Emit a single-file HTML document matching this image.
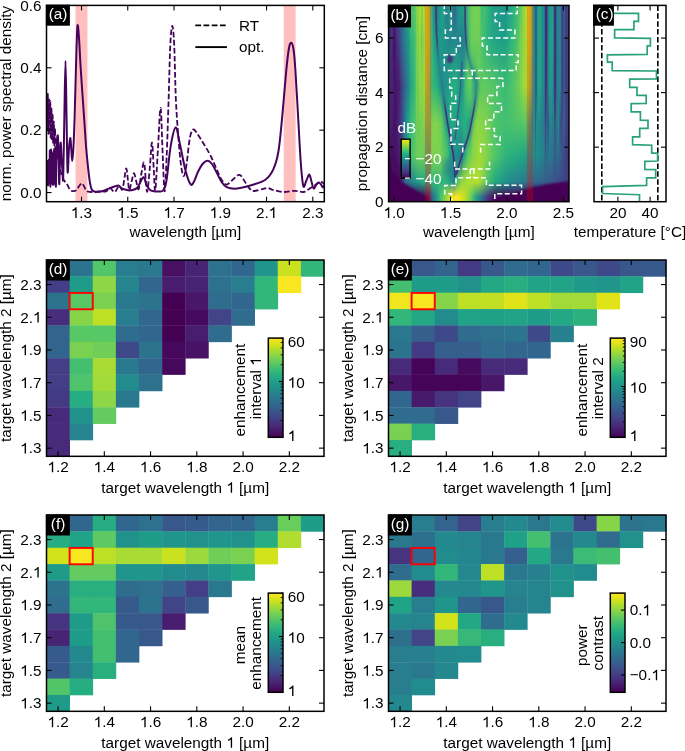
<!DOCTYPE html>
<html><head><meta charset="utf-8"><style>
html,body{margin:0;padding:0;background:#fff;overflow:hidden;width:685px;height:751px;}
svg{display:block;will-change:transform;}
text{font-family:"Liberation Sans", sans-serif;}
</style></head><body>
<svg width="685" height="751" viewBox="0 0 685 751" font-family="'Liberation Sans', sans-serif">
<rect width="685" height="751" fill="#fff"/>
<rect x="46.50" y="260.00" width="23.48" height="16.71" fill="#21918c"/>
<rect x="69.62" y="260.00" width="23.48" height="16.71" fill="#2c738e"/>
<rect x="92.75" y="260.00" width="23.48" height="16.71" fill="#52c569"/>
<rect x="115.88" y="260.00" width="23.48" height="16.71" fill="#287d8e"/>
<rect x="139.00" y="260.00" width="23.48" height="16.71" fill="#2a788e"/>
<rect x="162.12" y="260.00" width="23.48" height="16.71" fill="#471063"/>
<rect x="185.25" y="260.00" width="23.48" height="16.71" fill="#482475"/>
<rect x="208.38" y="260.00" width="23.48" height="16.71" fill="#2d718e"/>
<rect x="231.50" y="260.00" width="23.48" height="16.71" fill="#31678e"/>
<rect x="254.62" y="260.00" width="23.48" height="16.71" fill="#1f958b"/>
<rect x="277.75" y="260.00" width="23.48" height="16.71" fill="#cae11f"/>
<rect x="300.88" y="260.00" width="23.48" height="16.71" fill="#32b67a"/>
<rect x="46.50" y="276.36" width="23.48" height="16.71" fill="#433e85"/>
<rect x="69.62" y="276.36" width="23.48" height="16.71" fill="#1e9c89"/>
<rect x="92.75" y="276.36" width="23.48" height="16.71" fill="#8ed645"/>
<rect x="115.88" y="276.36" width="23.48" height="16.71" fill="#25848e"/>
<rect x="139.00" y="276.36" width="23.48" height="16.71" fill="#31678e"/>
<rect x="162.12" y="276.36" width="23.48" height="16.71" fill="#481d6f"/>
<rect x="185.25" y="276.36" width="23.48" height="16.71" fill="#482475"/>
<rect x="208.38" y="276.36" width="23.48" height="16.71" fill="#2d718e"/>
<rect x="231.50" y="276.36" width="23.48" height="16.71" fill="#287d8e"/>
<rect x="254.62" y="276.36" width="23.48" height="16.71" fill="#32b67a"/>
<rect x="277.75" y="276.36" width="23.48" height="16.71" fill="#f8e621"/>
<rect x="46.50" y="292.72" width="23.48" height="16.71" fill="#2c738e"/>
<rect x="69.62" y="292.72" width="23.48" height="16.71" fill="#58c765"/>
<rect x="92.75" y="292.72" width="23.48" height="16.71" fill="#7ad151"/>
<rect x="115.88" y="292.72" width="23.48" height="16.71" fill="#2a788e"/>
<rect x="139.00" y="292.72" width="23.48" height="16.71" fill="#2c738e"/>
<rect x="162.12" y="292.72" width="23.48" height="16.71" fill="#440154"/>
<rect x="185.25" y="292.72" width="23.48" height="16.71" fill="#481769"/>
<rect x="208.38" y="292.72" width="23.48" height="16.71" fill="#2f6c8e"/>
<rect x="231.50" y="292.72" width="23.48" height="16.71" fill="#31678e"/>
<rect x="254.62" y="292.72" width="23.48" height="16.71" fill="#32b67a"/>
<rect x="46.50" y="309.08" width="23.48" height="16.71" fill="#472e7c"/>
<rect x="69.62" y="309.08" width="23.48" height="16.71" fill="#86d549"/>
<rect x="92.75" y="309.08" width="23.48" height="16.71" fill="#bddf26"/>
<rect x="115.88" y="309.08" width="23.48" height="16.71" fill="#287d8e"/>
<rect x="139.00" y="309.08" width="23.48" height="16.71" fill="#31678e"/>
<rect x="162.12" y="309.08" width="23.48" height="16.71" fill="#440154"/>
<rect x="185.25" y="309.08" width="23.48" height="16.71" fill="#460b5e"/>
<rect x="208.38" y="309.08" width="23.48" height="16.71" fill="#414487"/>
<rect x="231.50" y="309.08" width="23.48" height="16.71" fill="#2f6c8e"/>
<rect x="46.50" y="325.44" width="23.48" height="16.71" fill="#32648e"/>
<rect x="69.62" y="325.44" width="23.48" height="16.71" fill="#58c765"/>
<rect x="92.75" y="325.44" width="23.48" height="16.71" fill="#58c765"/>
<rect x="115.88" y="325.44" width="23.48" height="16.71" fill="#2f6c8e"/>
<rect x="139.00" y="325.44" width="23.48" height="16.71" fill="#31678e"/>
<rect x="162.12" y="325.44" width="23.48" height="16.71" fill="#440154"/>
<rect x="185.25" y="325.44" width="23.48" height="16.71" fill="#481d6f"/>
<rect x="208.38" y="325.44" width="23.48" height="16.71" fill="#2f6c8e"/>
<rect x="46.50" y="341.80" width="23.48" height="16.71" fill="#32648e"/>
<rect x="69.62" y="341.80" width="23.48" height="16.71" fill="#7ad151"/>
<rect x="92.75" y="341.80" width="23.48" height="16.71" fill="#6ece58"/>
<rect x="115.88" y="341.80" width="23.48" height="16.71" fill="#3e4989"/>
<rect x="139.00" y="341.80" width="23.48" height="16.71" fill="#2c738e"/>
<rect x="162.12" y="341.80" width="23.48" height="16.71" fill="#46085c"/>
<rect x="185.25" y="341.80" width="23.48" height="16.71" fill="#471365"/>
<rect x="46.50" y="358.16" width="23.48" height="16.71" fill="#433e85"/>
<rect x="69.62" y="358.16" width="23.48" height="16.71" fill="#44bf70"/>
<rect x="92.75" y="358.16" width="23.48" height="16.71" fill="#a8db34"/>
<rect x="115.88" y="358.16" width="23.48" height="16.71" fill="#2a788e"/>
<rect x="139.00" y="358.16" width="23.48" height="16.71" fill="#31678e"/>
<rect x="162.12" y="358.16" width="23.48" height="16.71" fill="#46085c"/>
<rect x="46.50" y="374.52" width="23.48" height="16.71" fill="#433e85"/>
<rect x="69.62" y="374.52" width="23.48" height="16.71" fill="#4ec36b"/>
<rect x="92.75" y="374.52" width="23.48" height="16.71" fill="#a2da37"/>
<rect x="115.88" y="374.52" width="23.48" height="16.71" fill="#228b8d"/>
<rect x="139.00" y="374.52" width="23.48" height="16.71" fill="#2d718e"/>
<rect x="46.50" y="390.88" width="23.48" height="16.71" fill="#443a83"/>
<rect x="69.62" y="390.88" width="23.48" height="16.71" fill="#26ad81"/>
<rect x="92.75" y="390.88" width="23.48" height="16.71" fill="#8ed645"/>
<rect x="115.88" y="390.88" width="23.48" height="16.71" fill="#2a788e"/>
<rect x="46.50" y="407.24" width="23.48" height="16.71" fill="#472a7a"/>
<rect x="69.62" y="407.24" width="23.48" height="16.71" fill="#21918c"/>
<rect x="92.75" y="407.24" width="23.48" height="16.71" fill="#63cb5f"/>
<rect x="46.50" y="423.60" width="23.48" height="16.71" fill="#472a7a"/>
<rect x="69.62" y="423.60" width="23.48" height="16.71" fill="#25848e"/>
<rect x="46.50" y="439.96" width="23.48" height="16.71" fill="#472a7a"/>
<rect x="69.62" y="292.92" width="23.12" height="16.36" fill="none" stroke="#ff0000" stroke-width="1.9"/>
<line x1="58.06" y1="456.32" x2="58.06" y2="451.32" stroke="#000" stroke-width="1.1"/>
<line x1="58.06" y1="260.00" x2="58.06" y2="265.00" stroke="#000" stroke-width="1.1"/>
<g>
<text x="58.06" y="472.32" text-anchor="middle" font-size="15.3" fill="#000"> .2</text>
<path d="M770,0 L590,0 L590,1100 C520,1040 400,975 210,915 L210,1085 C380,1150 540,1270 640,1409 L770,1409 Z" fill="#000" transform="translate(47.428 472.320) scale(0.007471 -0.007471)"/>
</g>
<line x1="104.31" y1="456.32" x2="104.31" y2="451.32" stroke="#000" stroke-width="1.1"/>
<line x1="104.31" y1="260.00" x2="104.31" y2="265.00" stroke="#000" stroke-width="1.1"/>
<g>
<text x="104.31" y="472.32" text-anchor="middle" font-size="15.3" fill="#000"> .4</text>
<path d="M770,0 L590,0 L590,1100 C520,1040 400,975 210,915 L210,1085 C380,1150 540,1270 640,1409 L770,1409 Z" fill="#000" transform="translate(93.678 472.320) scale(0.007471 -0.007471)"/>
</g>
<line x1="150.56" y1="456.32" x2="150.56" y2="451.32" stroke="#000" stroke-width="1.1"/>
<line x1="150.56" y1="260.00" x2="150.56" y2="265.00" stroke="#000" stroke-width="1.1"/>
<g>
<text x="150.56" y="472.32" text-anchor="middle" font-size="15.3" fill="#000"> .6</text>
<path d="M770,0 L590,0 L590,1100 C520,1040 400,975 210,915 L210,1085 C380,1150 540,1270 640,1409 L770,1409 Z" fill="#000" transform="translate(139.928 472.320) scale(0.007471 -0.007471)"/>
</g>
<line x1="196.81" y1="456.32" x2="196.81" y2="451.32" stroke="#000" stroke-width="1.1"/>
<line x1="196.81" y1="260.00" x2="196.81" y2="265.00" stroke="#000" stroke-width="1.1"/>
<g>
<text x="196.81" y="472.32" text-anchor="middle" font-size="15.3" fill="#000"> .8</text>
<path d="M770,0 L590,0 L590,1100 C520,1040 400,975 210,915 L210,1085 C380,1150 540,1270 640,1409 L770,1409 Z" fill="#000" transform="translate(186.178 472.320) scale(0.007471 -0.007471)"/>
</g>
<line x1="243.06" y1="456.32" x2="243.06" y2="451.32" stroke="#000" stroke-width="1.1"/>
<line x1="243.06" y1="260.00" x2="243.06" y2="265.00" stroke="#000" stroke-width="1.1"/>
<text x="243.06" y="472.32" text-anchor="middle" font-size="15.3" fill="#000">2.0</text>
<line x1="289.31" y1="456.32" x2="289.31" y2="451.32" stroke="#000" stroke-width="1.1"/>
<line x1="289.31" y1="260.00" x2="289.31" y2="265.00" stroke="#000" stroke-width="1.1"/>
<text x="289.31" y="472.32" text-anchor="middle" font-size="15.3" fill="#000">2.2</text>
<line x1="46.50" y1="448.14" x2="51.50" y2="448.14" stroke="#000" stroke-width="1.1"/>
<line x1="324.00" y1="448.14" x2="319.00" y2="448.14" stroke="#000" stroke-width="1.1"/>
<g>
<text x="41.50" y="453.44" text-anchor="end" font-size="15.3" fill="#000"> .3</text>
<path d="M770,0 L590,0 L590,1100 C520,1040 400,975 210,915 L210,1085 C380,1150 540,1270 640,1409 L770,1409 Z" fill="#000" transform="translate(20.231 453.440) scale(0.007471 -0.007471)"/>
</g>
<line x1="46.50" y1="415.42" x2="51.50" y2="415.42" stroke="#000" stroke-width="1.1"/>
<line x1="324.00" y1="415.42" x2="319.00" y2="415.42" stroke="#000" stroke-width="1.1"/>
<g>
<text x="41.50" y="420.72" text-anchor="end" font-size="15.3" fill="#000"> .5</text>
<path d="M770,0 L590,0 L590,1100 C520,1040 400,975 210,915 L210,1085 C380,1150 540,1270 640,1409 L770,1409 Z" fill="#000" transform="translate(20.231 420.720) scale(0.007471 -0.007471)"/>
</g>
<line x1="46.50" y1="382.70" x2="51.50" y2="382.70" stroke="#000" stroke-width="1.1"/>
<line x1="324.00" y1="382.70" x2="319.00" y2="382.70" stroke="#000" stroke-width="1.1"/>
<g>
<text x="41.50" y="388.00" text-anchor="end" font-size="15.3" fill="#000"> .7</text>
<path d="M770,0 L590,0 L590,1100 C520,1040 400,975 210,915 L210,1085 C380,1150 540,1270 640,1409 L770,1409 Z" fill="#000" transform="translate(20.231 388.000) scale(0.007471 -0.007471)"/>
</g>
<line x1="46.50" y1="349.98" x2="51.50" y2="349.98" stroke="#000" stroke-width="1.1"/>
<line x1="324.00" y1="349.98" x2="319.00" y2="349.98" stroke="#000" stroke-width="1.1"/>
<g>
<text x="41.50" y="355.28" text-anchor="end" font-size="15.3" fill="#000"> .9</text>
<path d="M770,0 L590,0 L590,1100 C520,1040 400,975 210,915 L210,1085 C380,1150 540,1270 640,1409 L770,1409 Z" fill="#000" transform="translate(20.231 355.280) scale(0.007471 -0.007471)"/>
</g>
<line x1="46.50" y1="317.26" x2="51.50" y2="317.26" stroke="#000" stroke-width="1.1"/>
<line x1="324.00" y1="317.26" x2="319.00" y2="317.26" stroke="#000" stroke-width="1.1"/>
<g>
<text x="41.50" y="322.56" text-anchor="end" font-size="15.3" fill="#000">2. </text>
<path d="M770,0 L590,0 L590,1100 C520,1040 400,975 210,915 L210,1085 C380,1150 540,1270 640,1409 L770,1409 Z" fill="#000" transform="translate(32.991 322.560) scale(0.007471 -0.007471)"/>
</g>
<line x1="46.50" y1="284.54" x2="51.50" y2="284.54" stroke="#000" stroke-width="1.1"/>
<line x1="324.00" y1="284.54" x2="319.00" y2="284.54" stroke="#000" stroke-width="1.1"/>
<text x="41.50" y="289.84" text-anchor="end" font-size="15.3" fill="#000">2.3</text>
<rect x="46.50" y="260.00" width="277.50" height="196.32" fill="none" stroke="#000" stroke-width="1.5"/>
<rect x="45.90" y="259.40" width="24.00" height="21.10" fill="#000"/>
<text x="58.10" y="274.25" text-anchor="middle" font-size="15.3" fill="#fff">(d)</text>
<g>
<text x="185.25" y="492.82" text-anchor="middle" font-size="15.3" fill="#000">target wavelength   [µm]</text>
<path d="M770,0 L590,0 L590,1100 C520,1040 400,975 210,915 L210,1085 C380,1150 540,1270 640,1409 L770,1409 Z" fill="#000" transform="translate(226.354 492.820) scale(0.007471 -0.007471)"/>
</g>
<text x="10.60" y="358.16" text-anchor="middle" font-size="15.3" fill="#000" transform="rotate(-90 10.600000000000001 358.15999999999997)">target wavelength 2 [µm]</text>
<defs><linearGradient id="cbd" x1="0" y1="0" x2="0" y2="1"><stop offset="0.000" stop-color="#fde725"/><stop offset="0.050" stop-color="#dfe318"/><stop offset="0.100" stop-color="#bddf26"/><stop offset="0.150" stop-color="#9bd93c"/><stop offset="0.200" stop-color="#7ad151"/><stop offset="0.250" stop-color="#5ec962"/><stop offset="0.300" stop-color="#44bf70"/><stop offset="0.350" stop-color="#2fb47c"/><stop offset="0.400" stop-color="#22a884"/><stop offset="0.450" stop-color="#1e9c89"/><stop offset="0.500" stop-color="#21918c"/><stop offset="0.550" stop-color="#25848e"/><stop offset="0.600" stop-color="#2a788e"/><stop offset="0.650" stop-color="#2f6c8e"/><stop offset="0.700" stop-color="#355f8d"/><stop offset="0.750" stop-color="#3b528b"/><stop offset="0.800" stop-color="#414487"/><stop offset="0.850" stop-color="#463480"/><stop offset="0.900" stop-color="#482475"/><stop offset="0.950" stop-color="#471365"/><stop offset="1.000" stop-color="#440154"/></linearGradient></defs>
<rect x="268.30" y="338.10" width="14.70" height="99.20" fill="url(#cbd)"/>
<line x1="283.00" y1="420.51" x2="280.70" y2="420.51" stroke="#000" stroke-width="0.9"/>
<line x1="283.00" y1="410.68" x2="280.70" y2="410.68" stroke="#000" stroke-width="0.9"/>
<line x1="283.00" y1="403.71" x2="280.70" y2="403.71" stroke="#000" stroke-width="0.9"/>
<line x1="283.00" y1="398.31" x2="280.70" y2="398.31" stroke="#000" stroke-width="0.9"/>
<line x1="283.00" y1="393.89" x2="280.70" y2="393.89" stroke="#000" stroke-width="0.9"/>
<line x1="283.00" y1="390.15" x2="280.70" y2="390.15" stroke="#000" stroke-width="0.9"/>
<line x1="283.00" y1="386.92" x2="280.70" y2="386.92" stroke="#000" stroke-width="0.9"/>
<line x1="283.00" y1="384.06" x2="280.70" y2="384.06" stroke="#000" stroke-width="0.9"/>
<line x1="283.00" y1="364.72" x2="280.70" y2="364.72" stroke="#000" stroke-width="0.9"/>
<line x1="283.00" y1="354.89" x2="280.70" y2="354.89" stroke="#000" stroke-width="0.9"/>
<line x1="283.00" y1="347.92" x2="280.70" y2="347.92" stroke="#000" stroke-width="0.9"/>
<line x1="283.00" y1="342.52" x2="280.70" y2="342.52" stroke="#000" stroke-width="0.9"/>
<line x1="283.00" y1="338.10" x2="280.70" y2="338.10" stroke="#000" stroke-width="0.9"/>
<line x1="283.00" y1="381.51" x2="279.00" y2="381.51" stroke="#000" stroke-width="1.1"/>
<rect x="268.30" y="338.10" width="14.70" height="99.20" fill="none" stroke="#000" stroke-width="1.5"/>
<text x="287.70" y="346.80" text-anchor="start" font-size="15.3" fill="#000">60</text>
<g>
<text x="287.70" y="387.81" text-anchor="start" font-size="15.3" fill="#000"> 0</text>
<path d="M770,0 L590,0 L590,1100 C520,1040 400,975 210,915 L210,1085 C380,1150 540,1270 640,1409 L770,1409 Z" fill="#000" transform="translate(287.700 387.812) scale(0.007471 -0.007471)"/>
</g>
<g>
<text x="287.70" y="441.10" text-anchor="start" font-size="15.3" fill="#000"> </text>
<path d="M770,0 L590,0 L590,1100 C520,1040 400,975 210,915 L210,1085 C380,1150 540,1270 640,1409 L770,1409 Z" fill="#000" transform="translate(287.700 441.100) scale(0.007471 -0.007471)"/>
</g>
<text x="245.20" y="390.20" text-anchor="middle" font-size="15.3" fill="#000" transform="rotate(-90 245.20000000000002 390.20000000000005)">enhancement</text>
<g transform="rotate(-90 261.0 388.30000000000007)">
<text x="261.00" y="388.30" text-anchor="middle" font-size="15.3" fill="#000">interval  </text>
<path d="M770,0 L590,0 L590,1100 C520,1040 400,975 210,915 L210,1085 C380,1150 540,1270 640,1409 L770,1409 Z" fill="#000" transform="translate(283.532 388.300) scale(0.007471 -0.007471)"/>
</g>
<rect x="388.50" y="260.00" width="23.48" height="16.71" fill="#21918c"/>
<rect x="411.62" y="260.00" width="23.48" height="16.71" fill="#38588c"/>
<rect x="434.75" y="260.00" width="23.48" height="16.71" fill="#32648e"/>
<rect x="457.88" y="260.00" width="23.48" height="16.71" fill="#443a83"/>
<rect x="481.00" y="260.00" width="23.48" height="16.71" fill="#38588c"/>
<rect x="504.12" y="260.00" width="23.48" height="16.71" fill="#2f6c8e"/>
<rect x="527.25" y="260.00" width="23.48" height="16.71" fill="#31678e"/>
<rect x="550.38" y="260.00" width="23.48" height="16.71" fill="#3e4989"/>
<rect x="573.50" y="260.00" width="23.48" height="16.71" fill="#38588c"/>
<rect x="596.62" y="260.00" width="23.48" height="16.71" fill="#3e4989"/>
<rect x="619.75" y="260.00" width="23.48" height="16.71" fill="#38588c"/>
<rect x="642.88" y="260.00" width="23.48" height="16.71" fill="#375a8c"/>
<rect x="388.50" y="276.36" width="23.48" height="16.71" fill="#44bf70"/>
<rect x="411.62" y="276.36" width="23.48" height="16.71" fill="#1e9c89"/>
<rect x="434.75" y="276.36" width="23.48" height="16.71" fill="#1e9c89"/>
<rect x="457.88" y="276.36" width="23.48" height="16.71" fill="#21918c"/>
<rect x="481.00" y="276.36" width="23.48" height="16.71" fill="#22a884"/>
<rect x="504.12" y="276.36" width="23.48" height="16.71" fill="#29af7f"/>
<rect x="527.25" y="276.36" width="23.48" height="16.71" fill="#20a386"/>
<rect x="550.38" y="276.36" width="23.48" height="16.71" fill="#20a386"/>
<rect x="573.50" y="276.36" width="23.48" height="16.71" fill="#1f9a8a"/>
<rect x="596.62" y="276.36" width="23.48" height="16.71" fill="#1f958b"/>
<rect x="619.75" y="276.36" width="23.48" height="16.71" fill="#20a386"/>
<rect x="388.50" y="292.72" width="23.48" height="16.71" fill="#f1e51d"/>
<rect x="411.62" y="292.72" width="23.48" height="16.71" fill="#f8e621"/>
<rect x="434.75" y="292.72" width="23.48" height="16.71" fill="#86d549"/>
<rect x="457.88" y="292.72" width="23.48" height="16.71" fill="#bddf26"/>
<rect x="481.00" y="292.72" width="23.48" height="16.71" fill="#c2df23"/>
<rect x="504.12" y="292.72" width="23.48" height="16.71" fill="#dfe318"/>
<rect x="527.25" y="292.72" width="23.48" height="16.71" fill="#bddf26"/>
<rect x="550.38" y="292.72" width="23.48" height="16.71" fill="#a2da37"/>
<rect x="573.50" y="292.72" width="23.48" height="16.71" fill="#a2da37"/>
<rect x="596.62" y="292.72" width="23.48" height="16.71" fill="#dfe318"/>
<rect x="388.50" y="309.08" width="23.48" height="16.71" fill="#32b67a"/>
<rect x="411.62" y="309.08" width="23.48" height="16.71" fill="#22a884"/>
<rect x="434.75" y="309.08" width="23.48" height="16.71" fill="#228b8d"/>
<rect x="457.88" y="309.08" width="23.48" height="16.71" fill="#20a386"/>
<rect x="481.00" y="309.08" width="23.48" height="16.71" fill="#1fa188"/>
<rect x="504.12" y="309.08" width="23.48" height="16.71" fill="#20a386"/>
<rect x="527.25" y="309.08" width="23.48" height="16.71" fill="#1e9c89"/>
<rect x="550.38" y="309.08" width="23.48" height="16.71" fill="#22a884"/>
<rect x="573.50" y="309.08" width="23.48" height="16.71" fill="#2cb17e"/>
<rect x="388.50" y="325.44" width="23.48" height="16.71" fill="#2a788e"/>
<rect x="411.62" y="325.44" width="23.48" height="16.71" fill="#355f8d"/>
<rect x="434.75" y="325.44" width="23.48" height="16.71" fill="#3e4989"/>
<rect x="457.88" y="325.44" width="23.48" height="16.71" fill="#2f6c8e"/>
<rect x="481.00" y="325.44" width="23.48" height="16.71" fill="#2d718e"/>
<rect x="504.12" y="325.44" width="23.48" height="16.71" fill="#2b758e"/>
<rect x="527.25" y="325.44" width="23.48" height="16.71" fill="#3e4989"/>
<rect x="550.38" y="325.44" width="23.48" height="16.71" fill="#27808e"/>
<rect x="388.50" y="341.80" width="23.48" height="16.71" fill="#2c738e"/>
<rect x="411.62" y="341.80" width="23.48" height="16.71" fill="#443a83"/>
<rect x="434.75" y="341.80" width="23.48" height="16.71" fill="#355f8d"/>
<rect x="457.88" y="341.80" width="23.48" height="16.71" fill="#355f8d"/>
<rect x="481.00" y="341.80" width="23.48" height="16.71" fill="#2f6c8e"/>
<rect x="504.12" y="341.80" width="23.48" height="16.71" fill="#31678e"/>
<rect x="527.25" y="341.80" width="23.48" height="16.71" fill="#31678e"/>
<rect x="388.50" y="358.16" width="23.48" height="16.71" fill="#472a7a"/>
<rect x="411.62" y="358.16" width="23.48" height="16.71" fill="#450457"/>
<rect x="434.75" y="358.16" width="23.48" height="16.71" fill="#472a7a"/>
<rect x="457.88" y="358.16" width="23.48" height="16.71" fill="#460b5e"/>
<rect x="481.00" y="358.16" width="23.48" height="16.71" fill="#472a7a"/>
<rect x="504.12" y="358.16" width="23.48" height="16.71" fill="#472a7a"/>
<rect x="388.50" y="374.52" width="23.48" height="16.71" fill="#481769"/>
<rect x="411.62" y="374.52" width="23.48" height="16.71" fill="#450457"/>
<rect x="434.75" y="374.52" width="23.48" height="16.71" fill="#450457"/>
<rect x="457.88" y="374.52" width="23.48" height="16.71" fill="#450457"/>
<rect x="481.00" y="374.52" width="23.48" height="16.71" fill="#481769"/>
<rect x="388.50" y="390.88" width="23.48" height="16.71" fill="#31678e"/>
<rect x="411.62" y="390.88" width="23.48" height="16.71" fill="#481a6c"/>
<rect x="434.75" y="390.88" width="23.48" height="16.71" fill="#463480"/>
<rect x="457.88" y="390.88" width="23.48" height="16.71" fill="#414487"/>
<rect x="388.50" y="407.24" width="23.48" height="16.71" fill="#2f6c8e"/>
<rect x="411.62" y="407.24" width="23.48" height="16.71" fill="#2f6c8e"/>
<rect x="434.75" y="407.24" width="23.48" height="16.71" fill="#38588c"/>
<rect x="388.50" y="423.60" width="23.48" height="16.71" fill="#7ad151"/>
<rect x="411.62" y="423.60" width="23.48" height="16.71" fill="#29af7f"/>
<rect x="388.50" y="439.96" width="23.48" height="16.71" fill="#29af7f"/>
<rect x="411.62" y="292.92" width="23.12" height="16.36" fill="none" stroke="#ff0000" stroke-width="1.9"/>
<line x1="400.06" y1="456.32" x2="400.06" y2="451.32" stroke="#000" stroke-width="1.1"/>
<line x1="400.06" y1="260.00" x2="400.06" y2="265.00" stroke="#000" stroke-width="1.1"/>
<g>
<text x="400.06" y="472.32" text-anchor="middle" font-size="15.3" fill="#000"> .2</text>
<path d="M770,0 L590,0 L590,1100 C520,1040 400,975 210,915 L210,1085 C380,1150 540,1270 640,1409 L770,1409 Z" fill="#000" transform="translate(389.428 472.320) scale(0.007471 -0.007471)"/>
</g>
<line x1="446.31" y1="456.32" x2="446.31" y2="451.32" stroke="#000" stroke-width="1.1"/>
<line x1="446.31" y1="260.00" x2="446.31" y2="265.00" stroke="#000" stroke-width="1.1"/>
<g>
<text x="446.31" y="472.32" text-anchor="middle" font-size="15.3" fill="#000"> .4</text>
<path d="M770,0 L590,0 L590,1100 C520,1040 400,975 210,915 L210,1085 C380,1150 540,1270 640,1409 L770,1409 Z" fill="#000" transform="translate(435.678 472.320) scale(0.007471 -0.007471)"/>
</g>
<line x1="492.56" y1="456.32" x2="492.56" y2="451.32" stroke="#000" stroke-width="1.1"/>
<line x1="492.56" y1="260.00" x2="492.56" y2="265.00" stroke="#000" stroke-width="1.1"/>
<g>
<text x="492.56" y="472.32" text-anchor="middle" font-size="15.3" fill="#000"> .6</text>
<path d="M770,0 L590,0 L590,1100 C520,1040 400,975 210,915 L210,1085 C380,1150 540,1270 640,1409 L770,1409 Z" fill="#000" transform="translate(481.928 472.320) scale(0.007471 -0.007471)"/>
</g>
<line x1="538.81" y1="456.32" x2="538.81" y2="451.32" stroke="#000" stroke-width="1.1"/>
<line x1="538.81" y1="260.00" x2="538.81" y2="265.00" stroke="#000" stroke-width="1.1"/>
<g>
<text x="538.81" y="472.32" text-anchor="middle" font-size="15.3" fill="#000"> .8</text>
<path d="M770,0 L590,0 L590,1100 C520,1040 400,975 210,915 L210,1085 C380,1150 540,1270 640,1409 L770,1409 Z" fill="#000" transform="translate(528.178 472.320) scale(0.007471 -0.007471)"/>
</g>
<line x1="585.06" y1="456.32" x2="585.06" y2="451.32" stroke="#000" stroke-width="1.1"/>
<line x1="585.06" y1="260.00" x2="585.06" y2="265.00" stroke="#000" stroke-width="1.1"/>
<text x="585.06" y="472.32" text-anchor="middle" font-size="15.3" fill="#000">2.0</text>
<line x1="631.31" y1="456.32" x2="631.31" y2="451.32" stroke="#000" stroke-width="1.1"/>
<line x1="631.31" y1="260.00" x2="631.31" y2="265.00" stroke="#000" stroke-width="1.1"/>
<text x="631.31" y="472.32" text-anchor="middle" font-size="15.3" fill="#000">2.2</text>
<line x1="388.50" y1="448.14" x2="393.50" y2="448.14" stroke="#000" stroke-width="1.1"/>
<line x1="666.00" y1="448.14" x2="661.00" y2="448.14" stroke="#000" stroke-width="1.1"/>
<g>
<text x="383.50" y="453.44" text-anchor="end" font-size="15.3" fill="#000"> .3</text>
<path d="M770,0 L590,0 L590,1100 C520,1040 400,975 210,915 L210,1085 C380,1150 540,1270 640,1409 L770,1409 Z" fill="#000" transform="translate(362.231 453.440) scale(0.007471 -0.007471)"/>
</g>
<line x1="388.50" y1="415.42" x2="393.50" y2="415.42" stroke="#000" stroke-width="1.1"/>
<line x1="666.00" y1="415.42" x2="661.00" y2="415.42" stroke="#000" stroke-width="1.1"/>
<g>
<text x="383.50" y="420.72" text-anchor="end" font-size="15.3" fill="#000"> .5</text>
<path d="M770,0 L590,0 L590,1100 C520,1040 400,975 210,915 L210,1085 C380,1150 540,1270 640,1409 L770,1409 Z" fill="#000" transform="translate(362.231 420.720) scale(0.007471 -0.007471)"/>
</g>
<line x1="388.50" y1="382.70" x2="393.50" y2="382.70" stroke="#000" stroke-width="1.1"/>
<line x1="666.00" y1="382.70" x2="661.00" y2="382.70" stroke="#000" stroke-width="1.1"/>
<g>
<text x="383.50" y="388.00" text-anchor="end" font-size="15.3" fill="#000"> .7</text>
<path d="M770,0 L590,0 L590,1100 C520,1040 400,975 210,915 L210,1085 C380,1150 540,1270 640,1409 L770,1409 Z" fill="#000" transform="translate(362.231 388.000) scale(0.007471 -0.007471)"/>
</g>
<line x1="388.50" y1="349.98" x2="393.50" y2="349.98" stroke="#000" stroke-width="1.1"/>
<line x1="666.00" y1="349.98" x2="661.00" y2="349.98" stroke="#000" stroke-width="1.1"/>
<g>
<text x="383.50" y="355.28" text-anchor="end" font-size="15.3" fill="#000"> .9</text>
<path d="M770,0 L590,0 L590,1100 C520,1040 400,975 210,915 L210,1085 C380,1150 540,1270 640,1409 L770,1409 Z" fill="#000" transform="translate(362.231 355.280) scale(0.007471 -0.007471)"/>
</g>
<line x1="388.50" y1="317.26" x2="393.50" y2="317.26" stroke="#000" stroke-width="1.1"/>
<line x1="666.00" y1="317.26" x2="661.00" y2="317.26" stroke="#000" stroke-width="1.1"/>
<g>
<text x="383.50" y="322.56" text-anchor="end" font-size="15.3" fill="#000">2. </text>
<path d="M770,0 L590,0 L590,1100 C520,1040 400,975 210,915 L210,1085 C380,1150 540,1270 640,1409 L770,1409 Z" fill="#000" transform="translate(374.991 322.560) scale(0.007471 -0.007471)"/>
</g>
<line x1="388.50" y1="284.54" x2="393.50" y2="284.54" stroke="#000" stroke-width="1.1"/>
<line x1="666.00" y1="284.54" x2="661.00" y2="284.54" stroke="#000" stroke-width="1.1"/>
<text x="383.50" y="289.84" text-anchor="end" font-size="15.3" fill="#000">2.3</text>
<rect x="388.50" y="260.00" width="277.50" height="196.32" fill="none" stroke="#000" stroke-width="1.5"/>
<rect x="387.90" y="259.40" width="24.00" height="21.10" fill="#000"/>
<text x="400.10" y="274.25" text-anchor="middle" font-size="15.3" fill="#fff">(e)</text>
<g>
<text x="527.25" y="492.82" text-anchor="middle" font-size="15.3" fill="#000">target wavelength   [µm]</text>
<path d="M770,0 L590,0 L590,1100 C520,1040 400,975 210,915 L210,1085 C380,1150 540,1270 640,1409 L770,1409 Z" fill="#000" transform="translate(568.354 492.820) scale(0.007471 -0.007471)"/>
</g>
<text x="352.60" y="358.16" text-anchor="middle" font-size="15.3" fill="#000" transform="rotate(-90 352.6 358.15999999999997)">target wavelength 2 [µm]</text>
<defs><linearGradient id="cbe" x1="0" y1="0" x2="0" y2="1"><stop offset="0.000" stop-color="#fde725"/><stop offset="0.050" stop-color="#dfe318"/><stop offset="0.100" stop-color="#bddf26"/><stop offset="0.150" stop-color="#9bd93c"/><stop offset="0.200" stop-color="#7ad151"/><stop offset="0.250" stop-color="#5ec962"/><stop offset="0.300" stop-color="#44bf70"/><stop offset="0.350" stop-color="#2fb47c"/><stop offset="0.400" stop-color="#22a884"/><stop offset="0.450" stop-color="#1e9c89"/><stop offset="0.500" stop-color="#21918c"/><stop offset="0.550" stop-color="#25848e"/><stop offset="0.600" stop-color="#2a788e"/><stop offset="0.650" stop-color="#2f6c8e"/><stop offset="0.700" stop-color="#355f8d"/><stop offset="0.750" stop-color="#3b528b"/><stop offset="0.800" stop-color="#414487"/><stop offset="0.850" stop-color="#463480"/><stop offset="0.900" stop-color="#482475"/><stop offset="0.950" stop-color="#471365"/><stop offset="1.000" stop-color="#440154"/></linearGradient></defs>
<rect x="610.30" y="338.10" width="14.70" height="99.20" fill="url(#cbe)"/>
<line x1="625.00" y1="422.02" x2="622.70" y2="422.02" stroke="#000" stroke-width="0.9"/>
<line x1="625.00" y1="413.08" x2="622.70" y2="413.08" stroke="#000" stroke-width="0.9"/>
<line x1="625.00" y1="406.74" x2="622.70" y2="406.74" stroke="#000" stroke-width="0.9"/>
<line x1="625.00" y1="401.82" x2="622.70" y2="401.82" stroke="#000" stroke-width="0.9"/>
<line x1="625.00" y1="397.80" x2="622.70" y2="397.80" stroke="#000" stroke-width="0.9"/>
<line x1="625.00" y1="394.40" x2="622.70" y2="394.40" stroke="#000" stroke-width="0.9"/>
<line x1="625.00" y1="391.46" x2="622.70" y2="391.46" stroke="#000" stroke-width="0.9"/>
<line x1="625.00" y1="388.86" x2="622.70" y2="388.86" stroke="#000" stroke-width="0.9"/>
<line x1="625.00" y1="371.26" x2="622.70" y2="371.26" stroke="#000" stroke-width="0.9"/>
<line x1="625.00" y1="362.32" x2="622.70" y2="362.32" stroke="#000" stroke-width="0.9"/>
<line x1="625.00" y1="355.98" x2="622.70" y2="355.98" stroke="#000" stroke-width="0.9"/>
<line x1="625.00" y1="351.06" x2="622.70" y2="351.06" stroke="#000" stroke-width="0.9"/>
<line x1="625.00" y1="347.04" x2="622.70" y2="347.04" stroke="#000" stroke-width="0.9"/>
<line x1="625.00" y1="343.64" x2="622.70" y2="343.64" stroke="#000" stroke-width="0.9"/>
<line x1="625.00" y1="340.70" x2="622.70" y2="340.70" stroke="#000" stroke-width="0.9"/>
<line x1="625.00" y1="338.10" x2="622.70" y2="338.10" stroke="#000" stroke-width="0.9"/>
<line x1="625.00" y1="386.54" x2="621.00" y2="386.54" stroke="#000" stroke-width="1.1"/>
<rect x="610.30" y="338.10" width="14.70" height="99.20" fill="none" stroke="#000" stroke-width="1.5"/>
<text x="629.70" y="346.80" text-anchor="start" font-size="15.3" fill="#000">90</text>
<g>
<text x="629.70" y="392.84" text-anchor="start" font-size="15.3" fill="#000"> 0</text>
<path d="M770,0 L590,0 L590,1100 C520,1040 400,975 210,915 L210,1085 C380,1150 540,1270 640,1409 L770,1409 Z" fill="#000" transform="translate(629.700 392.839) scale(0.007471 -0.007471)"/>
</g>
<g>
<text x="629.70" y="441.10" text-anchor="start" font-size="15.3" fill="#000"> </text>
<path d="M770,0 L590,0 L590,1100 C520,1040 400,975 210,915 L210,1085 C380,1150 540,1270 640,1409 L770,1409 Z" fill="#000" transform="translate(629.700 441.100) scale(0.007471 -0.007471)"/>
</g>
<text x="587.20" y="390.20" text-anchor="middle" font-size="15.3" fill="#000" transform="rotate(-90 587.1999999999999 390.20000000000005)">enhancement</text>
<text x="603.00" y="388.30" text-anchor="middle" font-size="15.3" fill="#000" transform="rotate(-90 603.0 388.30000000000007)">interval 2</text>
<rect x="46.50" y="515.00" width="23.48" height="16.71" fill="#21918c"/>
<rect x="69.62" y="515.00" width="23.48" height="16.71" fill="#31678e"/>
<rect x="92.75" y="515.00" width="23.48" height="16.71" fill="#26ad81"/>
<rect x="115.88" y="515.00" width="23.48" height="16.71" fill="#31678e"/>
<rect x="139.00" y="515.00" width="23.48" height="16.71" fill="#2d718e"/>
<rect x="162.12" y="515.00" width="23.48" height="16.71" fill="#38588c"/>
<rect x="185.25" y="515.00" width="23.48" height="16.71" fill="#375a8c"/>
<rect x="208.38" y="515.00" width="23.48" height="16.71" fill="#32648e"/>
<rect x="231.50" y="515.00" width="23.48" height="16.71" fill="#31678e"/>
<rect x="254.62" y="515.00" width="23.48" height="16.71" fill="#287d8e"/>
<rect x="277.75" y="515.00" width="23.48" height="16.71" fill="#69cd5b"/>
<rect x="300.88" y="515.00" width="23.48" height="16.71" fill="#1e9c89"/>
<rect x="46.50" y="531.36" width="23.48" height="16.71" fill="#26ad81"/>
<rect x="69.62" y="531.36" width="23.48" height="16.71" fill="#20a386"/>
<rect x="92.75" y="531.36" width="23.48" height="16.71" fill="#5ec962"/>
<rect x="115.88" y="531.36" width="23.48" height="16.71" fill="#21918c"/>
<rect x="139.00" y="531.36" width="23.48" height="16.71" fill="#1e9c89"/>
<rect x="162.12" y="531.36" width="23.48" height="16.71" fill="#1f958b"/>
<rect x="185.25" y="531.36" width="23.48" height="16.71" fill="#21918c"/>
<rect x="208.38" y="531.36" width="23.48" height="16.71" fill="#1f958b"/>
<rect x="231.50" y="531.36" width="23.48" height="16.71" fill="#21918c"/>
<rect x="254.62" y="531.36" width="23.48" height="16.71" fill="#26ad81"/>
<rect x="277.75" y="531.36" width="23.48" height="16.71" fill="#b0dd2f"/>
<rect x="46.50" y="547.72" width="23.48" height="16.71" fill="#d2e21b"/>
<rect x="69.62" y="547.72" width="23.48" height="16.71" fill="#f8e621"/>
<rect x="92.75" y="547.72" width="23.48" height="16.71" fill="#bddf26"/>
<rect x="115.88" y="547.72" width="23.48" height="16.71" fill="#a8db34"/>
<rect x="139.00" y="547.72" width="23.48" height="16.71" fill="#a8db34"/>
<rect x="162.12" y="547.72" width="23.48" height="16.71" fill="#cae11f"/>
<rect x="185.25" y="547.72" width="23.48" height="16.71" fill="#9bd93c"/>
<rect x="208.38" y="547.72" width="23.48" height="16.71" fill="#6ece58"/>
<rect x="231.50" y="547.72" width="23.48" height="16.71" fill="#7ad151"/>
<rect x="254.62" y="547.72" width="23.48" height="16.71" fill="#d2e21b"/>
<rect x="46.50" y="564.08" width="23.48" height="16.71" fill="#1e9c89"/>
<rect x="69.62" y="564.08" width="23.48" height="16.71" fill="#63cb5f"/>
<rect x="92.75" y="564.08" width="23.48" height="16.71" fill="#63cb5f"/>
<rect x="115.88" y="564.08" width="23.48" height="16.71" fill="#1f958b"/>
<rect x="139.00" y="564.08" width="23.48" height="16.71" fill="#1f958b"/>
<rect x="162.12" y="564.08" width="23.48" height="16.71" fill="#228b8d"/>
<rect x="185.25" y="564.08" width="23.48" height="16.71" fill="#23898e"/>
<rect x="208.38" y="564.08" width="23.48" height="16.71" fill="#1f958b"/>
<rect x="231.50" y="564.08" width="23.48" height="16.71" fill="#20a386"/>
<rect x="46.50" y="580.44" width="23.48" height="16.71" fill="#2c738e"/>
<rect x="69.62" y="580.44" width="23.48" height="16.71" fill="#29af7f"/>
<rect x="92.75" y="580.44" width="23.48" height="16.71" fill="#29af7f"/>
<rect x="115.88" y="580.44" width="23.48" height="16.71" fill="#2f6c8e"/>
<rect x="139.00" y="580.44" width="23.48" height="16.71" fill="#2d718e"/>
<rect x="162.12" y="580.44" width="23.48" height="16.71" fill="#355f8d"/>
<rect x="185.25" y="580.44" width="23.48" height="16.71" fill="#433e85"/>
<rect x="208.38" y="580.44" width="23.48" height="16.71" fill="#2a788e"/>
<rect x="46.50" y="596.80" width="23.48" height="16.71" fill="#2f6c8e"/>
<rect x="69.62" y="596.80" width="23.48" height="16.71" fill="#32b67a"/>
<rect x="92.75" y="596.80" width="23.48" height="16.71" fill="#32b67a"/>
<rect x="115.88" y="596.80" width="23.48" height="16.71" fill="#375a8c"/>
<rect x="139.00" y="596.80" width="23.48" height="16.71" fill="#2c738e"/>
<rect x="162.12" y="596.80" width="23.48" height="16.71" fill="#414487"/>
<rect x="185.25" y="596.80" width="23.48" height="16.71" fill="#38588c"/>
<rect x="46.50" y="613.16" width="23.48" height="16.71" fill="#463480"/>
<rect x="69.62" y="613.16" width="23.48" height="16.71" fill="#1e9c89"/>
<rect x="92.75" y="613.16" width="23.48" height="16.71" fill="#4ec36b"/>
<rect x="115.88" y="613.16" width="23.48" height="16.71" fill="#375a8c"/>
<rect x="139.00" y="613.16" width="23.48" height="16.71" fill="#38588c"/>
<rect x="162.12" y="613.16" width="23.48" height="16.71" fill="#481d6f"/>
<rect x="46.50" y="629.52" width="23.48" height="16.71" fill="#482475"/>
<rect x="69.62" y="629.52" width="23.48" height="16.71" fill="#1e9c89"/>
<rect x="92.75" y="629.52" width="23.48" height="16.71" fill="#44bf70"/>
<rect x="115.88" y="629.52" width="23.48" height="16.71" fill="#31678e"/>
<rect x="139.00" y="629.52" width="23.48" height="16.71" fill="#38588c"/>
<rect x="46.50" y="645.88" width="23.48" height="16.71" fill="#375a8c"/>
<rect x="69.62" y="645.88" width="23.48" height="16.71" fill="#23898e"/>
<rect x="92.75" y="645.88" width="23.48" height="16.71" fill="#44bf70"/>
<rect x="115.88" y="645.88" width="23.48" height="16.71" fill="#31678e"/>
<rect x="46.50" y="662.24" width="23.48" height="16.71" fill="#375a8c"/>
<rect x="69.62" y="662.24" width="23.48" height="16.71" fill="#25848e"/>
<rect x="92.75" y="662.24" width="23.48" height="16.71" fill="#29af7f"/>
<rect x="46.50" y="678.60" width="23.48" height="16.71" fill="#52c569"/>
<rect x="69.62" y="678.60" width="23.48" height="16.71" fill="#26ad81"/>
<rect x="46.50" y="694.96" width="23.48" height="16.71" fill="#1e9c89"/>
<rect x="69.62" y="547.92" width="23.12" height="16.36" fill="none" stroke="#ff0000" stroke-width="1.9"/>
<line x1="58.06" y1="711.32" x2="58.06" y2="706.32" stroke="#000" stroke-width="1.1"/>
<line x1="58.06" y1="515.00" x2="58.06" y2="520.00" stroke="#000" stroke-width="1.1"/>
<g>
<text x="58.06" y="727.32" text-anchor="middle" font-size="15.3" fill="#000"> .2</text>
<path d="M770,0 L590,0 L590,1100 C520,1040 400,975 210,915 L210,1085 C380,1150 540,1270 640,1409 L770,1409 Z" fill="#000" transform="translate(47.428 727.320) scale(0.007471 -0.007471)"/>
</g>
<line x1="104.31" y1="711.32" x2="104.31" y2="706.32" stroke="#000" stroke-width="1.1"/>
<line x1="104.31" y1="515.00" x2="104.31" y2="520.00" stroke="#000" stroke-width="1.1"/>
<g>
<text x="104.31" y="727.32" text-anchor="middle" font-size="15.3" fill="#000"> .4</text>
<path d="M770,0 L590,0 L590,1100 C520,1040 400,975 210,915 L210,1085 C380,1150 540,1270 640,1409 L770,1409 Z" fill="#000" transform="translate(93.678 727.320) scale(0.007471 -0.007471)"/>
</g>
<line x1="150.56" y1="711.32" x2="150.56" y2="706.32" stroke="#000" stroke-width="1.1"/>
<line x1="150.56" y1="515.00" x2="150.56" y2="520.00" stroke="#000" stroke-width="1.1"/>
<g>
<text x="150.56" y="727.32" text-anchor="middle" font-size="15.3" fill="#000"> .6</text>
<path d="M770,0 L590,0 L590,1100 C520,1040 400,975 210,915 L210,1085 C380,1150 540,1270 640,1409 L770,1409 Z" fill="#000" transform="translate(139.928 727.320) scale(0.007471 -0.007471)"/>
</g>
<line x1="196.81" y1="711.32" x2="196.81" y2="706.32" stroke="#000" stroke-width="1.1"/>
<line x1="196.81" y1="515.00" x2="196.81" y2="520.00" stroke="#000" stroke-width="1.1"/>
<g>
<text x="196.81" y="727.32" text-anchor="middle" font-size="15.3" fill="#000"> .8</text>
<path d="M770,0 L590,0 L590,1100 C520,1040 400,975 210,915 L210,1085 C380,1150 540,1270 640,1409 L770,1409 Z" fill="#000" transform="translate(186.178 727.320) scale(0.007471 -0.007471)"/>
</g>
<line x1="243.06" y1="711.32" x2="243.06" y2="706.32" stroke="#000" stroke-width="1.1"/>
<line x1="243.06" y1="515.00" x2="243.06" y2="520.00" stroke="#000" stroke-width="1.1"/>
<text x="243.06" y="727.32" text-anchor="middle" font-size="15.3" fill="#000">2.0</text>
<line x1="289.31" y1="711.32" x2="289.31" y2="706.32" stroke="#000" stroke-width="1.1"/>
<line x1="289.31" y1="515.00" x2="289.31" y2="520.00" stroke="#000" stroke-width="1.1"/>
<text x="289.31" y="727.32" text-anchor="middle" font-size="15.3" fill="#000">2.2</text>
<line x1="46.50" y1="703.14" x2="51.50" y2="703.14" stroke="#000" stroke-width="1.1"/>
<line x1="324.00" y1="703.14" x2="319.00" y2="703.14" stroke="#000" stroke-width="1.1"/>
<g>
<text x="41.50" y="708.44" text-anchor="end" font-size="15.3" fill="#000"> .3</text>
<path d="M770,0 L590,0 L590,1100 C520,1040 400,975 210,915 L210,1085 C380,1150 540,1270 640,1409 L770,1409 Z" fill="#000" transform="translate(20.231 708.440) scale(0.007471 -0.007471)"/>
</g>
<line x1="46.50" y1="670.42" x2="51.50" y2="670.42" stroke="#000" stroke-width="1.1"/>
<line x1="324.00" y1="670.42" x2="319.00" y2="670.42" stroke="#000" stroke-width="1.1"/>
<g>
<text x="41.50" y="675.72" text-anchor="end" font-size="15.3" fill="#000"> .5</text>
<path d="M770,0 L590,0 L590,1100 C520,1040 400,975 210,915 L210,1085 C380,1150 540,1270 640,1409 L770,1409 Z" fill="#000" transform="translate(20.231 675.720) scale(0.007471 -0.007471)"/>
</g>
<line x1="46.50" y1="637.70" x2="51.50" y2="637.70" stroke="#000" stroke-width="1.1"/>
<line x1="324.00" y1="637.70" x2="319.00" y2="637.70" stroke="#000" stroke-width="1.1"/>
<g>
<text x="41.50" y="643.00" text-anchor="end" font-size="15.3" fill="#000"> .7</text>
<path d="M770,0 L590,0 L590,1100 C520,1040 400,975 210,915 L210,1085 C380,1150 540,1270 640,1409 L770,1409 Z" fill="#000" transform="translate(20.231 643.000) scale(0.007471 -0.007471)"/>
</g>
<line x1="46.50" y1="604.98" x2="51.50" y2="604.98" stroke="#000" stroke-width="1.1"/>
<line x1="324.00" y1="604.98" x2="319.00" y2="604.98" stroke="#000" stroke-width="1.1"/>
<g>
<text x="41.50" y="610.28" text-anchor="end" font-size="15.3" fill="#000"> .9</text>
<path d="M770,0 L590,0 L590,1100 C520,1040 400,975 210,915 L210,1085 C380,1150 540,1270 640,1409 L770,1409 Z" fill="#000" transform="translate(20.231 610.280) scale(0.007471 -0.007471)"/>
</g>
<line x1="46.50" y1="572.26" x2="51.50" y2="572.26" stroke="#000" stroke-width="1.1"/>
<line x1="324.00" y1="572.26" x2="319.00" y2="572.26" stroke="#000" stroke-width="1.1"/>
<g>
<text x="41.50" y="577.56" text-anchor="end" font-size="15.3" fill="#000">2. </text>
<path d="M770,0 L590,0 L590,1100 C520,1040 400,975 210,915 L210,1085 C380,1150 540,1270 640,1409 L770,1409 Z" fill="#000" transform="translate(32.991 577.560) scale(0.007471 -0.007471)"/>
</g>
<line x1="46.50" y1="539.54" x2="51.50" y2="539.54" stroke="#000" stroke-width="1.1"/>
<line x1="324.00" y1="539.54" x2="319.00" y2="539.54" stroke="#000" stroke-width="1.1"/>
<text x="41.50" y="544.84" text-anchor="end" font-size="15.3" fill="#000">2.3</text>
<rect x="46.50" y="515.00" width="277.50" height="196.32" fill="none" stroke="#000" stroke-width="1.5"/>
<rect x="45.90" y="514.40" width="24.00" height="21.10" fill="#000"/>
<text x="58.10" y="529.25" text-anchor="middle" font-size="15.3" fill="#fff">(f)</text>
<g>
<text x="185.25" y="747.82" text-anchor="middle" font-size="15.3" fill="#000">target wavelength   [µm]</text>
<path d="M770,0 L590,0 L590,1100 C520,1040 400,975 210,915 L210,1085 C380,1150 540,1270 640,1409 L770,1409 Z" fill="#000" transform="translate(226.354 747.820) scale(0.007471 -0.007471)"/>
</g>
<text x="10.60" y="613.16" text-anchor="middle" font-size="15.3" fill="#000" transform="rotate(-90 10.600000000000001 613.16)">target wavelength 2 [µm]</text>
<defs><linearGradient id="cbf" x1="0" y1="0" x2="0" y2="1"><stop offset="0.000" stop-color="#fde725"/><stop offset="0.050" stop-color="#dfe318"/><stop offset="0.100" stop-color="#bddf26"/><stop offset="0.150" stop-color="#9bd93c"/><stop offset="0.200" stop-color="#7ad151"/><stop offset="0.250" stop-color="#5ec962"/><stop offset="0.300" stop-color="#44bf70"/><stop offset="0.350" stop-color="#2fb47c"/><stop offset="0.400" stop-color="#22a884"/><stop offset="0.450" stop-color="#1e9c89"/><stop offset="0.500" stop-color="#21918c"/><stop offset="0.550" stop-color="#25848e"/><stop offset="0.600" stop-color="#2a788e"/><stop offset="0.650" stop-color="#2f6c8e"/><stop offset="0.700" stop-color="#355f8d"/><stop offset="0.750" stop-color="#3b528b"/><stop offset="0.800" stop-color="#414487"/><stop offset="0.850" stop-color="#463480"/><stop offset="0.900" stop-color="#482475"/><stop offset="0.950" stop-color="#471365"/><stop offset="1.000" stop-color="#440154"/></linearGradient></defs>
<rect x="268.30" y="593.10" width="14.70" height="99.20" fill="url(#cbf)"/>
<line x1="283.00" y1="675.51" x2="280.70" y2="675.51" stroke="#000" stroke-width="0.9"/>
<line x1="283.00" y1="665.68" x2="280.70" y2="665.68" stroke="#000" stroke-width="0.9"/>
<line x1="283.00" y1="658.71" x2="280.70" y2="658.71" stroke="#000" stroke-width="0.9"/>
<line x1="283.00" y1="653.31" x2="280.70" y2="653.31" stroke="#000" stroke-width="0.9"/>
<line x1="283.00" y1="648.89" x2="280.70" y2="648.89" stroke="#000" stroke-width="0.9"/>
<line x1="283.00" y1="645.15" x2="280.70" y2="645.15" stroke="#000" stroke-width="0.9"/>
<line x1="283.00" y1="641.92" x2="280.70" y2="641.92" stroke="#000" stroke-width="0.9"/>
<line x1="283.00" y1="639.06" x2="280.70" y2="639.06" stroke="#000" stroke-width="0.9"/>
<line x1="283.00" y1="619.72" x2="280.70" y2="619.72" stroke="#000" stroke-width="0.9"/>
<line x1="283.00" y1="609.89" x2="280.70" y2="609.89" stroke="#000" stroke-width="0.9"/>
<line x1="283.00" y1="602.92" x2="280.70" y2="602.92" stroke="#000" stroke-width="0.9"/>
<line x1="283.00" y1="597.52" x2="280.70" y2="597.52" stroke="#000" stroke-width="0.9"/>
<line x1="283.00" y1="593.10" x2="280.70" y2="593.10" stroke="#000" stroke-width="0.9"/>
<line x1="283.00" y1="636.51" x2="279.00" y2="636.51" stroke="#000" stroke-width="1.1"/>
<rect x="268.30" y="593.10" width="14.70" height="99.20" fill="none" stroke="#000" stroke-width="1.5"/>
<text x="287.70" y="601.80" text-anchor="start" font-size="15.3" fill="#000">60</text>
<g>
<text x="287.70" y="642.81" text-anchor="start" font-size="15.3" fill="#000"> 0</text>
<path d="M770,0 L590,0 L590,1100 C520,1040 400,975 210,915 L210,1085 C380,1150 540,1270 640,1409 L770,1409 Z" fill="#000" transform="translate(287.700 642.812) scale(0.007471 -0.007471)"/>
</g>
<g>
<text x="287.70" y="696.10" text-anchor="start" font-size="15.3" fill="#000"> </text>
<path d="M770,0 L590,0 L590,1100 C520,1040 400,975 210,915 L210,1085 C380,1150 540,1270 640,1409 L770,1409 Z" fill="#000" transform="translate(287.700 696.100) scale(0.007471 -0.007471)"/>
</g>
<text x="245.20" y="645.20" text-anchor="middle" font-size="15.3" fill="#000" transform="rotate(-90 245.20000000000002 645.2)">mean</text>
<text x="261.00" y="643.30" text-anchor="middle" font-size="15.3" fill="#000" transform="rotate(-90 261.0 643.3000000000001)">enhancement</text>
<rect x="388.50" y="515.00" width="23.48" height="16.71" fill="#21918c"/>
<rect x="411.62" y="515.00" width="23.48" height="16.71" fill="#287d8e"/>
<rect x="434.75" y="515.00" width="23.48" height="16.71" fill="#32648e"/>
<rect x="457.88" y="515.00" width="23.48" height="16.71" fill="#414487"/>
<rect x="481.00" y="515.00" width="23.48" height="16.71" fill="#287d8e"/>
<rect x="504.12" y="515.00" width="23.48" height="16.71" fill="#23898e"/>
<rect x="527.25" y="515.00" width="23.48" height="16.71" fill="#2a788e"/>
<rect x="550.38" y="515.00" width="23.48" height="16.71" fill="#228b8d"/>
<rect x="573.50" y="515.00" width="23.48" height="16.71" fill="#3e4989"/>
<rect x="596.62" y="515.00" width="23.48" height="16.71" fill="#86d549"/>
<rect x="619.75" y="515.00" width="23.48" height="16.71" fill="#2c738e"/>
<rect x="642.88" y="515.00" width="23.48" height="16.71" fill="#2a788e"/>
<rect x="388.50" y="531.36" width="23.48" height="16.71" fill="#2a788e"/>
<rect x="411.62" y="531.36" width="23.48" height="16.71" fill="#2e6f8e"/>
<rect x="434.75" y="531.36" width="23.48" height="16.71" fill="#23898e"/>
<rect x="457.88" y="531.36" width="23.48" height="16.71" fill="#25848e"/>
<rect x="481.00" y="531.36" width="23.48" height="16.71" fill="#2a788e"/>
<rect x="504.12" y="531.36" width="23.48" height="16.71" fill="#1fa188"/>
<rect x="527.25" y="531.36" width="23.48" height="16.71" fill="#44bf70"/>
<rect x="550.38" y="531.36" width="23.48" height="16.71" fill="#2c738e"/>
<rect x="573.50" y="531.36" width="23.48" height="16.71" fill="#23898e"/>
<rect x="596.62" y="531.36" width="23.48" height="16.71" fill="#2f6c8e"/>
<rect x="619.75" y="531.36" width="23.48" height="16.71" fill="#21918c"/>
<rect x="388.50" y="547.72" width="23.48" height="16.71" fill="#463480"/>
<rect x="411.62" y="547.72" width="23.48" height="16.71" fill="#31678e"/>
<rect x="434.75" y="547.72" width="23.48" height="16.71" fill="#228b8d"/>
<rect x="457.88" y="547.72" width="23.48" height="16.71" fill="#24868e"/>
<rect x="481.00" y="547.72" width="23.48" height="16.71" fill="#2a788e"/>
<rect x="504.12" y="547.72" width="23.48" height="16.71" fill="#355f8d"/>
<rect x="527.25" y="547.72" width="23.48" height="16.71" fill="#22a884"/>
<rect x="550.38" y="547.72" width="23.48" height="16.71" fill="#2a788e"/>
<rect x="573.50" y="547.72" width="23.48" height="16.71" fill="#3bbb75"/>
<rect x="596.62" y="547.72" width="23.48" height="16.71" fill="#44bf70"/>
<rect x="388.50" y="564.08" width="23.48" height="16.71" fill="#2f6c8e"/>
<rect x="411.62" y="564.08" width="23.48" height="16.71" fill="#228b8d"/>
<rect x="434.75" y="564.08" width="23.48" height="16.71" fill="#32b67a"/>
<rect x="457.88" y="564.08" width="23.48" height="16.71" fill="#23898e"/>
<rect x="481.00" y="564.08" width="23.48" height="16.71" fill="#bddf26"/>
<rect x="504.12" y="564.08" width="23.48" height="16.71" fill="#2a788e"/>
<rect x="527.25" y="564.08" width="23.48" height="16.71" fill="#27808e"/>
<rect x="550.38" y="564.08" width="23.48" height="16.71" fill="#21918c"/>
<rect x="573.50" y="564.08" width="23.48" height="16.71" fill="#228b8d"/>
<rect x="388.50" y="580.44" width="23.48" height="16.71" fill="#9bd93c"/>
<rect x="411.62" y="580.44" width="23.48" height="16.71" fill="#472e7c"/>
<rect x="434.75" y="580.44" width="23.48" height="16.71" fill="#23898e"/>
<rect x="457.88" y="580.44" width="23.48" height="16.71" fill="#23898e"/>
<rect x="481.00" y="580.44" width="23.48" height="16.71" fill="#1f958b"/>
<rect x="504.12" y="580.44" width="23.48" height="16.71" fill="#25848e"/>
<rect x="527.25" y="580.44" width="23.48" height="16.71" fill="#25848e"/>
<rect x="550.38" y="580.44" width="23.48" height="16.71" fill="#21918c"/>
<rect x="388.50" y="596.80" width="23.48" height="16.71" fill="#20a386"/>
<rect x="411.62" y="596.80" width="23.48" height="16.71" fill="#287d8e"/>
<rect x="434.75" y="596.80" width="23.48" height="16.71" fill="#1f958b"/>
<rect x="457.88" y="596.80" width="23.48" height="16.71" fill="#31678e"/>
<rect x="481.00" y="596.80" width="23.48" height="16.71" fill="#38588c"/>
<rect x="504.12" y="596.80" width="23.48" height="16.71" fill="#287d8e"/>
<rect x="527.25" y="596.80" width="23.48" height="16.71" fill="#25848e"/>
<rect x="388.50" y="613.16" width="23.48" height="16.71" fill="#23898e"/>
<rect x="411.62" y="613.16" width="23.48" height="16.71" fill="#25848e"/>
<rect x="434.75" y="613.16" width="23.48" height="16.71" fill="#d2e21b"/>
<rect x="457.88" y="613.16" width="23.48" height="16.71" fill="#22a884"/>
<rect x="481.00" y="613.16" width="23.48" height="16.71" fill="#2f6c8e"/>
<rect x="504.12" y="613.16" width="23.48" height="16.71" fill="#23898e"/>
<rect x="388.50" y="629.52" width="23.48" height="16.71" fill="#2e6f8e"/>
<rect x="411.62" y="629.52" width="23.48" height="16.71" fill="#414487"/>
<rect x="434.75" y="629.52" width="23.48" height="16.71" fill="#7ad151"/>
<rect x="457.88" y="629.52" width="23.48" height="16.71" fill="#37b878"/>
<rect x="481.00" y="629.52" width="23.48" height="16.71" fill="#29af7f"/>
<rect x="388.50" y="645.88" width="23.48" height="16.71" fill="#287d8e"/>
<rect x="411.62" y="645.88" width="23.48" height="16.71" fill="#27808e"/>
<rect x="434.75" y="645.88" width="23.48" height="16.71" fill="#23898e"/>
<rect x="457.88" y="645.88" width="23.48" height="16.71" fill="#228b8d"/>
<rect x="388.50" y="662.24" width="23.48" height="16.71" fill="#287d8e"/>
<rect x="411.62" y="662.24" width="23.48" height="16.71" fill="#2a788e"/>
<rect x="434.75" y="662.24" width="23.48" height="16.71" fill="#23898e"/>
<rect x="388.50" y="678.60" width="23.48" height="16.71" fill="#287d8e"/>
<rect x="411.62" y="678.60" width="23.48" height="16.71" fill="#228b8d"/>
<rect x="388.50" y="694.96" width="23.48" height="16.71" fill="#23898e"/>
<rect x="411.62" y="547.92" width="23.12" height="16.36" fill="none" stroke="#ff0000" stroke-width="1.9"/>
<line x1="400.06" y1="711.32" x2="400.06" y2="706.32" stroke="#000" stroke-width="1.1"/>
<line x1="400.06" y1="515.00" x2="400.06" y2="520.00" stroke="#000" stroke-width="1.1"/>
<g>
<text x="400.06" y="727.32" text-anchor="middle" font-size="15.3" fill="#000"> .2</text>
<path d="M770,0 L590,0 L590,1100 C520,1040 400,975 210,915 L210,1085 C380,1150 540,1270 640,1409 L770,1409 Z" fill="#000" transform="translate(389.428 727.320) scale(0.007471 -0.007471)"/>
</g>
<line x1="446.31" y1="711.32" x2="446.31" y2="706.32" stroke="#000" stroke-width="1.1"/>
<line x1="446.31" y1="515.00" x2="446.31" y2="520.00" stroke="#000" stroke-width="1.1"/>
<g>
<text x="446.31" y="727.32" text-anchor="middle" font-size="15.3" fill="#000"> .4</text>
<path d="M770,0 L590,0 L590,1100 C520,1040 400,975 210,915 L210,1085 C380,1150 540,1270 640,1409 L770,1409 Z" fill="#000" transform="translate(435.678 727.320) scale(0.007471 -0.007471)"/>
</g>
<line x1="492.56" y1="711.32" x2="492.56" y2="706.32" stroke="#000" stroke-width="1.1"/>
<line x1="492.56" y1="515.00" x2="492.56" y2="520.00" stroke="#000" stroke-width="1.1"/>
<g>
<text x="492.56" y="727.32" text-anchor="middle" font-size="15.3" fill="#000"> .6</text>
<path d="M770,0 L590,0 L590,1100 C520,1040 400,975 210,915 L210,1085 C380,1150 540,1270 640,1409 L770,1409 Z" fill="#000" transform="translate(481.928 727.320) scale(0.007471 -0.007471)"/>
</g>
<line x1="538.81" y1="711.32" x2="538.81" y2="706.32" stroke="#000" stroke-width="1.1"/>
<line x1="538.81" y1="515.00" x2="538.81" y2="520.00" stroke="#000" stroke-width="1.1"/>
<g>
<text x="538.81" y="727.32" text-anchor="middle" font-size="15.3" fill="#000"> .8</text>
<path d="M770,0 L590,0 L590,1100 C520,1040 400,975 210,915 L210,1085 C380,1150 540,1270 640,1409 L770,1409 Z" fill="#000" transform="translate(528.178 727.320) scale(0.007471 -0.007471)"/>
</g>
<line x1="585.06" y1="711.32" x2="585.06" y2="706.32" stroke="#000" stroke-width="1.1"/>
<line x1="585.06" y1="515.00" x2="585.06" y2="520.00" stroke="#000" stroke-width="1.1"/>
<text x="585.06" y="727.32" text-anchor="middle" font-size="15.3" fill="#000">2.0</text>
<line x1="631.31" y1="711.32" x2="631.31" y2="706.32" stroke="#000" stroke-width="1.1"/>
<line x1="631.31" y1="515.00" x2="631.31" y2="520.00" stroke="#000" stroke-width="1.1"/>
<text x="631.31" y="727.32" text-anchor="middle" font-size="15.3" fill="#000">2.2</text>
<line x1="388.50" y1="703.14" x2="393.50" y2="703.14" stroke="#000" stroke-width="1.1"/>
<line x1="666.00" y1="703.14" x2="661.00" y2="703.14" stroke="#000" stroke-width="1.1"/>
<g>
<text x="383.50" y="708.44" text-anchor="end" font-size="15.3" fill="#000"> .3</text>
<path d="M770,0 L590,0 L590,1100 C520,1040 400,975 210,915 L210,1085 C380,1150 540,1270 640,1409 L770,1409 Z" fill="#000" transform="translate(362.231 708.440) scale(0.007471 -0.007471)"/>
</g>
<line x1="388.50" y1="670.42" x2="393.50" y2="670.42" stroke="#000" stroke-width="1.1"/>
<line x1="666.00" y1="670.42" x2="661.00" y2="670.42" stroke="#000" stroke-width="1.1"/>
<g>
<text x="383.50" y="675.72" text-anchor="end" font-size="15.3" fill="#000"> .5</text>
<path d="M770,0 L590,0 L590,1100 C520,1040 400,975 210,915 L210,1085 C380,1150 540,1270 640,1409 L770,1409 Z" fill="#000" transform="translate(362.231 675.720) scale(0.007471 -0.007471)"/>
</g>
<line x1="388.50" y1="637.70" x2="393.50" y2="637.70" stroke="#000" stroke-width="1.1"/>
<line x1="666.00" y1="637.70" x2="661.00" y2="637.70" stroke="#000" stroke-width="1.1"/>
<g>
<text x="383.50" y="643.00" text-anchor="end" font-size="15.3" fill="#000"> .7</text>
<path d="M770,0 L590,0 L590,1100 C520,1040 400,975 210,915 L210,1085 C380,1150 540,1270 640,1409 L770,1409 Z" fill="#000" transform="translate(362.231 643.000) scale(0.007471 -0.007471)"/>
</g>
<line x1="388.50" y1="604.98" x2="393.50" y2="604.98" stroke="#000" stroke-width="1.1"/>
<line x1="666.00" y1="604.98" x2="661.00" y2="604.98" stroke="#000" stroke-width="1.1"/>
<g>
<text x="383.50" y="610.28" text-anchor="end" font-size="15.3" fill="#000"> .9</text>
<path d="M770,0 L590,0 L590,1100 C520,1040 400,975 210,915 L210,1085 C380,1150 540,1270 640,1409 L770,1409 Z" fill="#000" transform="translate(362.231 610.280) scale(0.007471 -0.007471)"/>
</g>
<line x1="388.50" y1="572.26" x2="393.50" y2="572.26" stroke="#000" stroke-width="1.1"/>
<line x1="666.00" y1="572.26" x2="661.00" y2="572.26" stroke="#000" stroke-width="1.1"/>
<g>
<text x="383.50" y="577.56" text-anchor="end" font-size="15.3" fill="#000">2. </text>
<path d="M770,0 L590,0 L590,1100 C520,1040 400,975 210,915 L210,1085 C380,1150 540,1270 640,1409 L770,1409 Z" fill="#000" transform="translate(374.991 577.560) scale(0.007471 -0.007471)"/>
</g>
<line x1="388.50" y1="539.54" x2="393.50" y2="539.54" stroke="#000" stroke-width="1.1"/>
<line x1="666.00" y1="539.54" x2="661.00" y2="539.54" stroke="#000" stroke-width="1.1"/>
<text x="383.50" y="544.84" text-anchor="end" font-size="15.3" fill="#000">2.3</text>
<rect x="388.50" y="515.00" width="277.50" height="196.32" fill="none" stroke="#000" stroke-width="1.5"/>
<rect x="387.90" y="514.40" width="24.00" height="21.10" fill="#000"/>
<text x="400.10" y="529.25" text-anchor="middle" font-size="15.3" fill="#fff">(g)</text>
<g>
<text x="527.25" y="747.82" text-anchor="middle" font-size="15.3" fill="#000">target wavelength   [µm]</text>
<path d="M770,0 L590,0 L590,1100 C520,1040 400,975 210,915 L210,1085 C380,1150 540,1270 640,1409 L770,1409 Z" fill="#000" transform="translate(568.354 747.820) scale(0.007471 -0.007471)"/>
</g>
<text x="352.60" y="613.16" text-anchor="middle" font-size="15.3" fill="#000" transform="rotate(-90 352.6 613.16)">target wavelength 2 [µm]</text>
<defs><linearGradient id="cbg" x1="0" y1="0" x2="0" y2="1"><stop offset="0.000" stop-color="#fde725"/><stop offset="0.050" stop-color="#dfe318"/><stop offset="0.100" stop-color="#bddf26"/><stop offset="0.150" stop-color="#9bd93c"/><stop offset="0.200" stop-color="#7ad151"/><stop offset="0.250" stop-color="#5ec962"/><stop offset="0.300" stop-color="#44bf70"/><stop offset="0.350" stop-color="#2fb47c"/><stop offset="0.400" stop-color="#22a884"/><stop offset="0.450" stop-color="#1e9c89"/><stop offset="0.500" stop-color="#21918c"/><stop offset="0.550" stop-color="#25848e"/><stop offset="0.600" stop-color="#2a788e"/><stop offset="0.650" stop-color="#2f6c8e"/><stop offset="0.700" stop-color="#355f8d"/><stop offset="0.750" stop-color="#3b528b"/><stop offset="0.800" stop-color="#414487"/><stop offset="0.850" stop-color="#463480"/><stop offset="0.900" stop-color="#482475"/><stop offset="0.950" stop-color="#471365"/><stop offset="1.000" stop-color="#440154"/></linearGradient></defs>
<rect x="610.30" y="593.10" width="14.70" height="99.20" fill="url(#cbg)"/>
<line x1="625.00" y1="610.10" x2="621.00" y2="610.10" stroke="#000" stroke-width="1.1"/>
<line x1="625.00" y1="642.60" x2="621.00" y2="642.60" stroke="#000" stroke-width="1.1"/>
<line x1="625.00" y1="675.00" x2="621.00" y2="675.00" stroke="#000" stroke-width="1.1"/>
<rect x="610.30" y="593.10" width="14.70" height="99.20" fill="none" stroke="#000" stroke-width="1.5"/>
<g>
<text x="629.70" y="615.40" text-anchor="start" font-size="15.3" fill="#000">0. </text>
<path d="M770,0 L590,0 L590,1100 C520,1040 400,975 210,915 L210,1085 C380,1150 540,1270 640,1409 L770,1409 Z" fill="#000" transform="translate(642.460 615.400) scale(0.007471 -0.007471)"/>
</g>
<text x="629.70" y="647.90" text-anchor="start" font-size="15.3" fill="#000">0.0</text>
<g>
<text x="629.70" y="680.30" text-anchor="start" font-size="15.3" fill="#000">−0. </text>
<path d="M770,0 L590,0 L590,1100 C520,1040 400,975 210,915 L210,1085 C380,1150 540,1270 640,1409 L770,1409 Z" fill="#000" transform="translate(651.395 680.300) scale(0.007471 -0.007471)"/>
</g>
<text x="587.20" y="645.20" text-anchor="middle" font-size="15.3" fill="#000" transform="rotate(-90 587.1999999999999 645.2)">power</text>
<text x="603.00" y="643.30" text-anchor="middle" font-size="15.3" fill="#000" transform="rotate(-90 603.0 643.3000000000001)">contrast</text>
<defs><clipPath id="clipa"><rect x="46.5" y="5.4" width="277.8" height="196.29999999999998"/></clipPath></defs>
<rect x="75.55" y="5.40" width="11.90" height="196.30" fill="#ffbfbf"/>
<rect x="283.72" y="5.40" width="11.90" height="196.30" fill="#ffbfbf"/>
<g clip-path="url(#clipa)" fill="none" stroke="#45045c" stroke-linejoin="round">
<path d="M46.60,164.38 C46.69,167.82 46.97,185.56 47.15,184.99 C47.33,184.43 47.52,160.93 47.70,160.99 C47.88,161.04 48.07,185.51 48.25,185.32 C48.43,185.13 48.62,160.35 48.80,159.86 C48.98,159.36 49.17,183.93 49.35,182.36 C49.53,180.79 49.72,149.72 49.90,150.43 C50.08,151.14 50.27,186.75 50.45,186.61 C50.63,186.47 50.82,150.15 51.00,149.59 C51.18,149.04 51.37,182.58 51.55,183.29 C51.73,184.00 51.92,153.64 52.10,153.86 C52.28,154.07 52.47,185.04 52.65,184.59 C52.83,184.14 53.02,151.16 53.20,151.16 C53.38,151.17 53.57,185.03 53.75,184.62 C53.93,184.21 54.12,148.99 54.30,148.69 C54.48,148.39 54.67,182.65 54.85,182.83 C55.03,183.00 55.22,149.09 55.40,149.75 C55.58,150.41 55.77,187.03 55.95,186.77 C56.13,186.52 56.17,156.69 56.50,148.23 C56.82,139.77 57.53,133.21 57.90,136.00 C58.27,138.79 58.47,157.00 58.70,165.00 C58.93,173.00 59.07,186.17 59.30,184.00 C59.53,181.83 59.85,158.83 60.10,152.00 C60.35,145.17 60.55,141.67 60.80,143.00 C61.05,144.33 61.33,155.50 61.60,160.00 C61.87,164.50 62.13,167.00 62.40,170.00 C62.67,173.00 62.88,186.33 63.20,178.00 C63.52,169.67 63.92,139.50 64.30,120.00 C64.68,100.50 65.12,61.00 65.50,61.00 C65.88,61.00 66.25,101.50 66.60,120.00 C66.95,138.50 67.20,167.33 67.60,172.00 C68.00,176.67 68.53,153.67 69.00,148.00 C69.47,142.33 70.02,137.67 70.40,138.00 C70.78,138.33 71.00,146.17 71.30,150.00 C71.60,153.83 71.87,161.00 72.20,161.00 C72.53,161.00 72.90,157.17 73.30,150.00 C73.70,142.83 74.17,131.33 74.60,118.00 C75.03,104.67 75.43,85.25 75.90,70.00 C76.37,54.75 76.88,31.83 77.40,26.50 C77.92,21.17 78.48,31.58 79.00,38.00 C79.52,44.42 79.92,55.50 80.50,65.00 C81.08,74.50 81.85,85.50 82.50,95.00 C83.15,104.50 83.82,113.50 84.40,122.00 C84.98,130.50 85.47,139.17 86.00,146.00 C86.53,152.83 87.00,157.27 87.60,163.00 C88.20,168.73 88.92,175.98 89.60,180.40 C90.28,184.82 90.80,187.63 91.70,189.50 C92.60,191.37 93.82,191.22 95.00,191.60 C96.18,191.98 97.48,191.90 98.80,191.80 C100.12,191.70 101.20,191.53 102.90,191.00 C104.60,190.47 106.95,189.40 109.00,188.60 C111.05,187.80 113.57,186.70 115.20,186.20 C116.83,185.70 117.78,185.27 118.80,185.60 C119.82,185.93 120.10,187.50 121.30,188.20 C122.50,188.90 124.45,189.45 126.00,189.80 C127.55,190.15 128.72,190.63 130.60,190.30 C132.48,189.97 135.18,189.98 137.30,187.80 C139.42,185.62 141.75,177.63 143.30,177.20 C144.85,176.77 145.38,183.02 146.60,185.20 C147.82,187.38 148.60,189.25 150.60,190.30 C152.60,191.35 156.48,191.50 158.60,191.50 C160.72,191.50 161.97,192.23 163.30,190.30 C164.63,188.37 165.38,187.18 166.60,179.90 C167.82,172.62 169.10,155.33 170.60,146.60 C172.10,137.87 174.05,127.95 175.60,127.50 C177.15,127.05 178.30,136.95 179.90,143.90 C181.50,150.85 183.48,162.55 185.20,169.20 C186.92,175.85 188.82,181.58 190.20,183.80 C191.58,186.02 192.20,184.50 193.50,182.50 C194.80,180.50 196.42,174.97 198.00,171.80 C199.58,168.63 201.35,165.33 203.00,163.50 C204.65,161.67 206.40,160.72 207.90,160.80 C209.40,160.88 210.60,162.17 212.00,164.00 C213.40,165.83 214.80,168.97 216.30,171.80 C217.80,174.63 219.27,178.43 221.00,181.00 C222.73,183.57 224.02,185.95 226.70,187.20 C229.38,188.45 232.75,188.90 237.10,188.50 C241.45,188.10 248.08,186.25 252.80,184.80 C257.52,183.35 261.98,182.37 265.40,179.80 C268.82,177.23 271.12,174.20 273.30,169.40 C275.48,164.60 276.98,160.13 278.50,151.00 C280.02,141.87 281.10,128.07 282.40,114.60 C283.70,101.13 285.20,81.30 286.30,70.20 C287.40,59.10 288.13,52.57 289.00,48.00 C289.87,43.43 290.73,42.47 291.50,42.80 C292.27,43.13 292.95,45.47 293.60,50.00 C294.25,54.53 294.67,59.23 295.40,70.00 C296.13,80.77 297.12,99.35 298.00,114.60 C298.88,129.85 299.82,149.60 300.70,161.50 C301.58,173.40 302.38,182.75 303.30,186.00 C304.22,189.25 305.20,182.90 306.20,181.00 C307.20,179.10 308.40,174.43 309.30,174.60 C310.20,174.77 310.87,179.67 311.60,182.00 C312.33,184.33 312.92,188.18 313.70,188.60 C314.48,189.02 315.43,185.53 316.30,184.50 C317.17,183.47 318.12,182.40 318.90,182.40 C319.68,182.40 320.35,183.67 321.00,184.50 C321.65,185.33 322.23,187.32 322.80,187.40 C323.37,187.48 324.13,185.40 324.40,185.00" stroke-width="2.0"/>
<path d="M46.60,93.97 C46.70,100.04 47.00,130.42 47.20,130.40 C47.40,130.38 47.60,93.26 47.80,93.83 C48.00,94.40 48.20,132.91 48.40,133.83 C48.60,134.76 48.80,99.27 49.00,99.36 C49.20,99.46 49.40,134.15 49.60,134.41 C49.80,134.67 50.00,100.15 50.20,100.92 C50.40,101.70 50.60,137.97 50.80,139.06 C51.00,140.16 51.20,107.19 51.40,107.49 C51.60,107.79 51.80,139.65 52.00,140.88 C52.20,142.10 52.40,114.32 52.60,114.82 C52.80,115.31 53.00,142.73 53.20,143.86 C53.40,144.98 53.60,121.30 53.80,121.58 C54.00,121.87 54.20,144.48 54.40,145.58 C54.60,146.68 54.80,127.67 55.00,128.20 C55.20,128.74 55.18,144.15 55.60,148.78 C56.02,153.41 56.93,153.46 57.50,156.00 C58.07,158.54 58.50,161.50 59.00,164.00 C59.50,166.50 60.00,169.00 60.50,171.00 C61.00,173.00 61.33,174.33 62.00,176.00 C62.67,177.67 63.63,179.58 64.50,181.00 C65.37,182.42 66.37,183.17 67.20,184.50 C68.03,185.83 68.83,187.97 69.50,189.00 C70.17,190.03 70.45,190.33 71.20,190.70 C71.95,191.07 73.13,191.28 74.00,191.20 C74.87,191.12 75.48,191.15 76.40,190.20 C77.32,189.25 78.57,186.65 79.50,185.50 C80.43,184.35 81.18,183.05 82.00,183.30 C82.82,183.55 83.63,185.72 84.40,187.00 C85.17,188.28 85.50,190.17 86.60,191.00 C87.70,191.83 89.47,191.80 91.00,192.00 C92.53,192.20 94.15,192.33 95.80,192.20 C97.45,192.07 99.20,191.32 100.90,191.20 C102.60,191.08 104.48,192.07 106.00,191.50 C107.52,190.93 108.83,187.88 110.00,187.80 C111.17,187.72 112.13,190.35 113.00,191.00 C113.87,191.65 114.15,192.57 115.20,191.70 C116.25,190.83 118.12,186.17 119.30,185.80 C120.48,185.43 121.42,190.97 122.30,189.50 C123.18,188.03 123.92,180.50 124.60,177.00 C125.28,173.50 125.83,167.83 126.40,168.50 C126.97,169.17 127.52,177.38 128.00,181.00 C128.48,184.62 128.68,190.20 129.30,190.20 C129.92,190.20 130.92,183.83 131.70,181.00 C132.48,178.17 133.23,173.12 134.00,173.20 C134.77,173.28 135.53,178.83 136.30,181.50 C137.07,184.17 137.77,190.45 138.60,189.20 C139.43,187.95 140.40,178.45 141.30,174.00 C142.20,169.55 143.25,161.50 144.00,162.50 C144.75,163.50 145.25,175.17 145.80,180.00 C146.35,184.83 146.63,193.50 147.30,191.50 C147.97,189.50 149.02,176.15 149.80,168.00 C150.58,159.85 151.33,142.27 152.00,142.60 C152.67,142.93 153.25,162.02 153.80,170.00 C154.35,177.98 154.60,194.17 155.30,190.50 C156.00,186.83 157.12,161.75 158.00,148.00 C158.88,134.25 159.82,106.83 160.60,108.00 C161.38,109.17 162.03,141.12 162.70,155.00 C163.37,168.88 163.95,190.80 164.60,191.30 C165.25,191.80 165.93,173.22 166.60,158.00 C167.27,142.78 167.98,118.83 168.60,100.00 C169.22,81.17 169.68,57.37 170.30,45.00 C170.92,32.63 171.65,25.80 172.30,25.80 C172.95,25.80 173.60,32.63 174.20,45.00 C174.80,57.37 175.17,84.17 175.90,100.00 C176.63,115.83 177.72,128.92 178.60,140.00 C179.48,151.08 180.32,160.50 181.20,166.50 C182.08,172.50 183.00,176.42 183.90,176.00 C184.80,175.58 185.72,169.67 186.60,164.00 C187.48,158.33 188.37,147.42 189.20,142.00 C190.03,136.58 190.78,133.57 191.60,131.50 C192.42,129.43 193.12,129.18 194.10,129.60 C195.08,130.02 195.98,131.77 197.50,134.00 C199.02,136.23 200.95,139.25 203.20,143.00 C205.45,146.75 208.38,151.27 211.00,156.50 C213.62,161.73 216.98,170.32 218.90,174.40 C220.82,178.48 221.20,179.30 222.50,181.00 C223.80,182.70 224.95,184.85 226.70,184.60 C228.45,184.35 230.83,181.12 233.00,179.50 C235.17,177.88 237.53,174.23 239.70,174.90 C241.87,175.57 244.28,181.15 246.00,183.50 C247.72,185.85 248.67,187.75 250.00,189.00 C251.33,190.25 251.80,191.02 254.00,191.00 C256.20,190.98 260.87,189.40 263.20,188.90 C265.53,188.40 266.32,187.82 268.00,188.00 C269.68,188.18 270.68,189.33 273.30,190.00 C275.92,190.67 280.23,191.87 283.70,192.00 C287.17,192.13 290.83,190.80 294.10,190.80 C297.37,190.80 300.82,192.30 303.30,192.00 C305.78,191.70 307.05,190.13 309.00,189.00 C310.95,187.87 313.42,186.27 315.00,185.20 C316.58,184.13 317.42,183.15 318.50,182.60 C319.58,182.05 320.52,181.67 321.50,181.90 C322.48,182.13 323.92,183.65 324.40,184.00" stroke-width="1.8" stroke-dasharray="5.6,2.4"/>
</g>
<line x1="81.50" y1="201.70" x2="81.50" y2="196.70" stroke="#000" stroke-width="1.1"/>
<line x1="81.50" y1="5.40" x2="81.50" y2="10.40" stroke="#000" stroke-width="1.1"/>
<g>
<text x="81.50" y="217.90" text-anchor="middle" font-size="15.3" fill="#000"> .3</text>
<path d="M770,0 L590,0 L590,1100 C520,1040 400,975 210,915 L210,1085 C380,1150 540,1270 640,1409 L770,1409 Z" fill="#000" transform="translate(70.865 217.900) scale(0.007471 -0.007471)"/>
</g>
<line x1="127.76" y1="201.70" x2="127.76" y2="196.70" stroke="#000" stroke-width="1.1"/>
<line x1="127.76" y1="5.40" x2="127.76" y2="10.40" stroke="#000" stroke-width="1.1"/>
<g>
<text x="127.76" y="217.90" text-anchor="middle" font-size="15.3" fill="#000"> .5</text>
<path d="M770,0 L590,0 L590,1100 C520,1040 400,975 210,915 L210,1085 C380,1150 540,1270 640,1409 L770,1409 Z" fill="#000" transform="translate(117.125 217.900) scale(0.007471 -0.007471)"/>
</g>
<line x1="174.02" y1="201.70" x2="174.02" y2="196.70" stroke="#000" stroke-width="1.1"/>
<line x1="174.02" y1="5.40" x2="174.02" y2="10.40" stroke="#000" stroke-width="1.1"/>
<g>
<text x="174.02" y="217.90" text-anchor="middle" font-size="15.3" fill="#000"> .7</text>
<path d="M770,0 L590,0 L590,1100 C520,1040 400,975 210,915 L210,1085 C380,1150 540,1270 640,1409 L770,1409 Z" fill="#000" transform="translate(163.385 217.900) scale(0.007471 -0.007471)"/>
</g>
<line x1="220.28" y1="201.70" x2="220.28" y2="196.70" stroke="#000" stroke-width="1.1"/>
<line x1="220.28" y1="5.40" x2="220.28" y2="10.40" stroke="#000" stroke-width="1.1"/>
<g>
<text x="220.28" y="217.90" text-anchor="middle" font-size="15.3" fill="#000"> .9</text>
<path d="M770,0 L590,0 L590,1100 C520,1040 400,975 210,915 L210,1085 C380,1150 540,1270 640,1409 L770,1409 Z" fill="#000" transform="translate(209.645 217.900) scale(0.007471 -0.007471)"/>
</g>
<line x1="266.54" y1="201.70" x2="266.54" y2="196.70" stroke="#000" stroke-width="1.1"/>
<line x1="266.54" y1="5.40" x2="266.54" y2="10.40" stroke="#000" stroke-width="1.1"/>
<g>
<text x="266.54" y="217.90" text-anchor="middle" font-size="15.3" fill="#000">2. </text>
<path d="M770,0 L590,0 L590,1100 C520,1040 400,975 210,915 L210,1085 C380,1150 540,1270 640,1409 L770,1409 Z" fill="#000" transform="translate(268.665 217.900) scale(0.007471 -0.007471)"/>
</g>
<line x1="312.80" y1="201.70" x2="312.80" y2="196.70" stroke="#000" stroke-width="1.1"/>
<line x1="312.80" y1="5.40" x2="312.80" y2="10.40" stroke="#000" stroke-width="1.1"/>
<text x="312.80" y="217.90" text-anchor="middle" font-size="15.3" fill="#000">2.3</text>
<line x1="46.50" y1="192.55" x2="51.50" y2="192.55" stroke="#000" stroke-width="1.1"/>
<line x1="324.30" y1="192.55" x2="319.30" y2="192.55" stroke="#000" stroke-width="1.1"/>
<text x="41.50" y="197.85" text-anchor="end" font-size="15.3" fill="#000">0.0</text>
<line x1="46.50" y1="130.17" x2="51.50" y2="130.17" stroke="#000" stroke-width="1.1"/>
<line x1="324.30" y1="130.17" x2="319.30" y2="130.17" stroke="#000" stroke-width="1.1"/>
<text x="41.50" y="135.47" text-anchor="end" font-size="15.3" fill="#000">0.2</text>
<line x1="46.50" y1="67.79" x2="51.50" y2="67.79" stroke="#000" stroke-width="1.1"/>
<line x1="324.30" y1="67.79" x2="319.30" y2="67.79" stroke="#000" stroke-width="1.1"/>
<text x="41.50" y="73.09" text-anchor="end" font-size="15.3" fill="#000">0.4</text>
<text x="41.50" y="10.71" text-anchor="end" font-size="15.3" fill="#000">0.6</text>
<rect x="46.50" y="5.40" width="277.80" height="196.30" fill="none" stroke="#000" stroke-width="1.5"/>
<rect x="45.90" y="4.70" width="24.00" height="21.00" fill="#000"/>
<text x="58.05" y="19.30" text-anchor="middle" font-size="15.3" fill="#fff">(a)</text>
<text x="185.40" y="237.30" text-anchor="middle" font-size="15.3" fill="#000">wavelength [µm]</text>
<text x="10.60" y="103.55" text-anchor="middle" font-size="15.3" fill="#000" transform="rotate(-90 10.6 103.55)">norm. power spectral density</text>
<line x1="195.30" y1="25.40" x2="225.80" y2="25.40" stroke="#000" stroke-width="1.7" stroke-dasharray="5.8,2.4"/>
<line x1="195.30" y1="47.10" x2="226.90" y2="47.10" stroke="#000" stroke-width="1.9"/>
<text x="239.00" y="30.90" text-anchor="start" font-size="15.3" fill="#000">RT</text>
<text x="239.00" y="52.40" text-anchor="start" font-size="15.3" fill="#000">opt.</text>
<defs><clipPath id="clipb"><rect x="388.6" y="5.4" width="180.39999999999998" height="196.29999999999998"/></clipPath>
<linearGradient id="gbr0" x1="388.6" y1="0" x2="569.0" y2="0" gradientUnits="userSpaceOnUse"><stop offset="0.0000" stop-color="#472a7a"/><stop offset="0.0188" stop-color="#472a7a"/><stop offset="0.0410" stop-color="#463480"/><stop offset="0.0576" stop-color="#3e4989"/><stop offset="0.0687" stop-color="#355f8d"/><stop offset="0.0909" stop-color="#25848e"/><stop offset="0.1220" stop-color="#3bbb75"/><stop offset="0.1441" stop-color="#58c765"/><stop offset="0.1574" stop-color="#6ece58"/><stop offset="0.1768" stop-color="#b0dd2f"/><stop offset="0.1851" stop-color="#63cb5f"/><stop offset="0.1918" stop-color="#b0dd2f"/><stop offset="0.1990" stop-color="#9bd93c"/><stop offset="0.2073" stop-color="#dfe318"/><stop offset="0.2239" stop-color="#b0dd2f"/><stop offset="0.2350" stop-color="#44bf70"/><stop offset="0.2506" stop-color="#21918c"/><stop offset="0.2727" stop-color="#25848e"/><stop offset="0.2849" stop-color="#1e9c89"/><stop offset="0.3016" stop-color="#20a386"/><stop offset="0.3237" stop-color="#287d8e"/><stop offset="0.3426" stop-color="#1e9c89"/><stop offset="0.3647" stop-color="#32648e"/><stop offset="0.3869" stop-color="#1f958b"/><stop offset="0.4069" stop-color="#1e9c89"/><stop offset="0.4401" stop-color="#4ec36b"/><stop offset="0.4623" stop-color="#6ece58"/><stop offset="0.5011" stop-color="#7ad151"/><stop offset="0.5161" stop-color="#3bbb75"/><stop offset="0.5305" stop-color="#44bf70"/><stop offset="0.5748" stop-color="#20a386"/><stop offset="0.6486" stop-color="#1f958b"/><stop offset="0.6840" stop-color="#26ad81"/><stop offset="0.7223" stop-color="#4ec36b"/><stop offset="0.7395" stop-color="#7ad151"/><stop offset="0.7616" stop-color="#b0dd2f"/><stop offset="0.7727" stop-color="#dfe318"/><stop offset="0.7894" stop-color="#bddf26"/><stop offset="0.8032" stop-color="#21918c"/><stop offset="0.8154" stop-color="#228b8d"/><stop offset="0.8198" stop-color="#375a8c"/><stop offset="0.8254" stop-color="#1e9c89"/><stop offset="0.8392" stop-color="#22a884"/><stop offset="0.8503" stop-color="#21918c"/><stop offset="0.8670" stop-color="#25848e"/><stop offset="0.8753" stop-color="#46307e"/><stop offset="0.8836" stop-color="#25848e"/><stop offset="0.8947" stop-color="#1e9c89"/><stop offset="0.9085" stop-color="#20a386"/><stop offset="0.9169" stop-color="#32648e"/><stop offset="0.9235" stop-color="#463480"/><stop offset="0.9307" stop-color="#32648e"/><stop offset="0.9390" stop-color="#25848e"/><stop offset="0.9557" stop-color="#287d8e"/><stop offset="0.9645" stop-color="#433e85"/><stop offset="0.9723" stop-color="#355f8d"/><stop offset="0.9867" stop-color="#443a83"/><stop offset="0.9972" stop-color="#3b528b"/></linearGradient>
<linearGradient id="gbr1" x1="388.6" y1="0" x2="569.0" y2="0" gradientUnits="userSpaceOnUse"><stop offset="0.0000" stop-color="#463480"/><stop offset="0.0188" stop-color="#463480"/><stop offset="0.0272" stop-color="#481769"/><stop offset="0.0371" stop-color="#481d6f"/><stop offset="0.0466" stop-color="#463480"/><stop offset="0.0593" stop-color="#414487"/><stop offset="0.0687" stop-color="#375a8c"/><stop offset="0.0776" stop-color="#2f6c8e"/><stop offset="0.0909" stop-color="#25848e"/><stop offset="0.1075" stop-color="#1f958b"/><stop offset="0.1242" stop-color="#26ad81"/><stop offset="0.1441" stop-color="#44bf70"/><stop offset="0.1574" stop-color="#5ec962"/><stop offset="0.1735" stop-color="#9bd93c"/><stop offset="0.1796" stop-color="#63cb5f"/><stop offset="0.1962" stop-color="#86d549"/><stop offset="0.2073" stop-color="#d2e21b"/><stop offset="0.2295" stop-color="#9bd93c"/><stop offset="0.2361" stop-color="#3bbb75"/><stop offset="0.2517" stop-color="#22a884"/><stop offset="0.2766" stop-color="#1e9c89"/><stop offset="0.2905" stop-color="#1f9f88"/><stop offset="0.3060" stop-color="#1f958b"/><stop offset="0.3404" stop-color="#24868e"/><stop offset="0.3681" stop-color="#228b8d"/><stop offset="0.3941" stop-color="#26828e"/><stop offset="0.4091" stop-color="#287d8e"/><stop offset="0.4235" stop-color="#25848e"/><stop offset="0.4385" stop-color="#44bf70"/><stop offset="0.4623" stop-color="#6ece58"/><stop offset="0.5011" stop-color="#6ece58"/><stop offset="0.5161" stop-color="#4ec36b"/><stop offset="0.5399" stop-color="#32b67a"/><stop offset="0.5748" stop-color="#22a884"/><stop offset="0.6175" stop-color="#1f9f88"/><stop offset="0.6486" stop-color="#1f9f88"/><stop offset="0.6729" stop-color="#2cb17e"/><stop offset="0.7073" stop-color="#44bf70"/><stop offset="0.7339" stop-color="#7ad151"/><stop offset="0.7616" stop-color="#a2da37"/><stop offset="0.7727" stop-color="#d2e21b"/><stop offset="0.7894" stop-color="#b0dd2f"/><stop offset="0.8032" stop-color="#21918c"/><stop offset="0.8154" stop-color="#228b8d"/><stop offset="0.8198" stop-color="#375a8c"/><stop offset="0.8254" stop-color="#1e9c89"/><stop offset="0.8392" stop-color="#22a884"/><stop offset="0.8503" stop-color="#21918c"/><stop offset="0.8670" stop-color="#25848e"/><stop offset="0.8753" stop-color="#46307e"/><stop offset="0.8836" stop-color="#25848e"/><stop offset="0.8947" stop-color="#1e9c89"/><stop offset="0.9085" stop-color="#20a386"/><stop offset="0.9169" stop-color="#32648e"/><stop offset="0.9235" stop-color="#463480"/><stop offset="0.9307" stop-color="#32648e"/><stop offset="0.9390" stop-color="#25848e"/><stop offset="0.9557" stop-color="#287d8e"/><stop offset="0.9645" stop-color="#433e85"/><stop offset="0.9723" stop-color="#355f8d"/><stop offset="0.9867" stop-color="#443a83"/><stop offset="0.9972" stop-color="#3b528b"/></linearGradient>
<linearGradient id="mg1" x1="0" y1="13" x2="0" y2="40" gradientUnits="userSpaceOnUse"><stop offset="0" stop-color="#fff" stop-opacity="0"/><stop offset="1" stop-color="#fff" stop-opacity="1"/></linearGradient>
<mask id="mk1" maskUnits="userSpaceOnUse" x="385" y="0" width="190" height="210"><rect x="385" y="13" width="190" height="197" fill="url(#mg1)"/></mask>
<linearGradient id="gbr2" x1="388.6" y1="0" x2="569.0" y2="0" gradientUnits="userSpaceOnUse"><stop offset="0.0000" stop-color="#482475"/><stop offset="0.0188" stop-color="#482475"/><stop offset="0.0410" stop-color="#481769"/><stop offset="0.0576" stop-color="#481d6f"/><stop offset="0.0704" stop-color="#433e85"/><stop offset="0.0798" stop-color="#3b528b"/><stop offset="0.0926" stop-color="#31678e"/><stop offset="0.1075" stop-color="#25848e"/><stop offset="0.1242" stop-color="#1e9c89"/><stop offset="0.1441" stop-color="#3bbb75"/><stop offset="0.1574" stop-color="#58c765"/><stop offset="0.1741" stop-color="#86d549"/><stop offset="0.1907" stop-color="#86d549"/><stop offset="0.2073" stop-color="#b0dd2f"/><stop offset="0.2295" stop-color="#7ad151"/><stop offset="0.2361" stop-color="#3bbb75"/><stop offset="0.2627" stop-color="#2cb17e"/><stop offset="0.2905" stop-color="#1e9c89"/><stop offset="0.3071" stop-color="#21918c"/><stop offset="0.3282" stop-color="#1f9a8a"/><stop offset="0.3514" stop-color="#26ad81"/><stop offset="0.3736" stop-color="#26ad81"/><stop offset="0.3941" stop-color="#22a884"/><stop offset="0.4091" stop-color="#1e9c89"/><stop offset="0.4290" stop-color="#4ec36b"/><stop offset="0.4512" stop-color="#69cd5b"/><stop offset="0.4734" stop-color="#32b67a"/><stop offset="0.5011" stop-color="#5ec962"/><stop offset="0.5344" stop-color="#5ec962"/><stop offset="0.5748" stop-color="#58c765"/><stop offset="0.6175" stop-color="#44bf70"/><stop offset="0.6486" stop-color="#3bbb75"/><stop offset="0.6840" stop-color="#4ec36b"/><stop offset="0.7223" stop-color="#6ece58"/><stop offset="0.7450" stop-color="#9bd93c"/><stop offset="0.7616" stop-color="#a2da37"/><stop offset="0.7727" stop-color="#bddf26"/><stop offset="0.7894" stop-color="#7ad151"/><stop offset="0.8032" stop-color="#21918c"/><stop offset="0.8154" stop-color="#228b8d"/><stop offset="0.8198" stop-color="#375a8c"/><stop offset="0.8254" stop-color="#1e9c89"/><stop offset="0.8392" stop-color="#22a884"/><stop offset="0.8503" stop-color="#21918c"/><stop offset="0.8670" stop-color="#25848e"/><stop offset="0.8753" stop-color="#414487"/><stop offset="0.8836" stop-color="#25848e"/><stop offset="0.8947" stop-color="#1e9c89"/><stop offset="0.9085" stop-color="#21918c"/><stop offset="0.9169" stop-color="#32648e"/><stop offset="0.9235" stop-color="#463480"/><stop offset="0.9307" stop-color="#32648e"/><stop offset="0.9390" stop-color="#25848e"/><stop offset="0.9557" stop-color="#287d8e"/><stop offset="0.9645" stop-color="#433e85"/><stop offset="0.9723" stop-color="#355f8d"/><stop offset="0.9867" stop-color="#443a83"/><stop offset="0.9972" stop-color="#3b528b"/></linearGradient>
<linearGradient id="mg2" x1="0" y1="40" x2="0" y2="86" gradientUnits="userSpaceOnUse"><stop offset="0" stop-color="#fff" stop-opacity="0"/><stop offset="1" stop-color="#fff" stop-opacity="1"/></linearGradient>
<mask id="mk2" maskUnits="userSpaceOnUse" x="385" y="0" width="190" height="210"><rect x="385" y="40" width="190" height="170" fill="url(#mg2)"/></mask>
<linearGradient id="gbr3" x1="388.6" y1="0" x2="569.0" y2="0" gradientUnits="userSpaceOnUse"><stop offset="0.0000" stop-color="#481a6c"/><stop offset="0.0188" stop-color="#482173"/><stop offset="0.0355" stop-color="#471063"/><stop offset="0.0521" stop-color="#482475"/><stop offset="0.0704" stop-color="#433e85"/><stop offset="0.0854" stop-color="#2f6c8e"/><stop offset="0.1020" stop-color="#1e9c89"/><stop offset="0.1147" stop-color="#26ad81"/><stop offset="0.1353" stop-color="#44bf70"/><stop offset="0.1574" stop-color="#5ec962"/><stop offset="0.1796" stop-color="#6ece58"/><stop offset="0.1962" stop-color="#7ad151"/><stop offset="0.2073" stop-color="#7ad151"/><stop offset="0.2295" stop-color="#6ece58"/><stop offset="0.2361" stop-color="#7ad151"/><stop offset="0.2627" stop-color="#86d549"/><stop offset="0.2905" stop-color="#6ece58"/><stop offset="0.3126" stop-color="#32b67a"/><stop offset="0.3426" stop-color="#22a884"/><stop offset="0.3681" stop-color="#22a884"/><stop offset="0.3958" stop-color="#22a884"/><stop offset="0.4235" stop-color="#26ad81"/><stop offset="0.4512" stop-color="#22a884"/><stop offset="0.4678" stop-color="#7ad151"/><stop offset="0.5011" stop-color="#8ed645"/><stop offset="0.5455" stop-color="#7ad151"/><stop offset="0.5898" stop-color="#4ec36b"/><stop offset="0.6486" stop-color="#44bf70"/><stop offset="0.7007" stop-color="#4ec36b"/><stop offset="0.7616" stop-color="#58c765"/><stop offset="0.7727" stop-color="#44bf70"/><stop offset="0.7894" stop-color="#26ad81"/><stop offset="0.7993" stop-color="#21918c"/><stop offset="0.8282" stop-color="#23898e"/><stop offset="0.8559" stop-color="#287d8e"/><stop offset="0.8769" stop-color="#2a788e"/><stop offset="0.8836" stop-color="#414487"/><stop offset="0.8914" stop-color="#287d8e"/><stop offset="0.9169" stop-color="#287d8e"/><stop offset="0.9429" stop-color="#2a788e"/><stop offset="0.9557" stop-color="#414487"/><stop offset="0.9667" stop-color="#2f6c8e"/><stop offset="0.9834" stop-color="#3e4989"/><stop offset="0.9972" stop-color="#433e85"/></linearGradient>
<linearGradient id="mg3" x1="0" y1="86" x2="0" y2="124" gradientUnits="userSpaceOnUse"><stop offset="0" stop-color="#fff" stop-opacity="0"/><stop offset="1" stop-color="#fff" stop-opacity="1"/></linearGradient>
<mask id="mk3" maskUnits="userSpaceOnUse" x="385" y="0" width="190" height="210"><rect x="385" y="86" width="190" height="124" fill="url(#mg3)"/></mask>
<linearGradient id="gbr4" x1="388.6" y1="0" x2="569.0" y2="0" gradientUnits="userSpaceOnUse"><stop offset="0.0000" stop-color="#450457"/><stop offset="0.0133" stop-color="#46085c"/><stop offset="0.0244" stop-color="#471063"/><stop offset="0.0521" stop-color="#481769"/><stop offset="0.0704" stop-color="#472a7a"/><stop offset="0.0909" stop-color="#21918c"/><stop offset="0.1181" stop-color="#3bbb75"/><stop offset="0.1463" stop-color="#5ec962"/><stop offset="0.1741" stop-color="#6ece58"/><stop offset="0.1962" stop-color="#63cb5f"/><stop offset="0.2073" stop-color="#4ec36b"/><stop offset="0.2295" stop-color="#44bf70"/><stop offset="0.2361" stop-color="#7ad151"/><stop offset="0.2849" stop-color="#7ad151"/><stop offset="0.3237" stop-color="#4ec36b"/><stop offset="0.3426" stop-color="#22a884"/><stop offset="0.3681" stop-color="#1f958b"/><stop offset="0.3941" stop-color="#25848e"/><stop offset="0.4041" stop-color="#2f6c8e"/><stop offset="0.4163" stop-color="#22a884"/><stop offset="0.4401" stop-color="#5ec962"/><stop offset="0.4678" stop-color="#86d549"/><stop offset="0.5011" stop-color="#a2da37"/><stop offset="0.5399" stop-color="#86d549"/><stop offset="0.5748" stop-color="#5ec962"/><stop offset="0.6120" stop-color="#44bf70"/><stop offset="0.6486" stop-color="#2fb47c"/><stop offset="0.7007" stop-color="#26ad81"/><stop offset="0.7616" stop-color="#20a386"/><stop offset="0.7727" stop-color="#1e9c89"/><stop offset="0.7894" stop-color="#1f958b"/><stop offset="0.7993" stop-color="#1f958b"/><stop offset="0.8392" stop-color="#24868e"/><stop offset="0.8836" stop-color="#2a788e"/><stop offset="0.9224" stop-color="#2f6c8e"/><stop offset="0.9579" stop-color="#355f8d"/><stop offset="0.9778" stop-color="#414487"/><stop offset="0.9972" stop-color="#463480"/></linearGradient>
<linearGradient id="mg4" x1="0" y1="124" x2="0" y2="156" gradientUnits="userSpaceOnUse"><stop offset="0" stop-color="#fff" stop-opacity="0"/><stop offset="1" stop-color="#fff" stop-opacity="1"/></linearGradient>
<mask id="mk4" maskUnits="userSpaceOnUse" x="385" y="0" width="190" height="210"><rect x="385" y="124" width="190" height="86" fill="url(#mg4)"/></mask>
<linearGradient id="gbr5" x1="388.6" y1="0" x2="569.0" y2="0" gradientUnits="userSpaceOnUse"><stop offset="0.0000" stop-color="#440154"/><stop offset="0.0554" stop-color="#440154"/><stop offset="0.0743" stop-color="#482475"/><stop offset="0.0926" stop-color="#31678e"/><stop offset="0.1297" stop-color="#25848e"/><stop offset="0.1630" stop-color="#1e9c89"/><stop offset="0.1990" stop-color="#26ad81"/><stop offset="0.2073" stop-color="#26ad81"/><stop offset="0.2295" stop-color="#2fb47c"/><stop offset="0.2361" stop-color="#32b67a"/><stop offset="0.2849" stop-color="#32b67a"/><stop offset="0.3237" stop-color="#2cb17e"/><stop offset="0.3503" stop-color="#1f958b"/><stop offset="0.3653" stop-color="#287d8e"/><stop offset="0.3792" stop-color="#44bf70"/><stop offset="0.4069" stop-color="#95d840"/><stop offset="0.4512" stop-color="#b0dd2f"/><stop offset="0.5011" stop-color="#b0dd2f"/><stop offset="0.5233" stop-color="#86d549"/><stop offset="0.5455" stop-color="#4ec36b"/><stop offset="0.5898" stop-color="#22a884"/><stop offset="0.6486" stop-color="#21918c"/><stop offset="0.7007" stop-color="#25848e"/><stop offset="0.7616" stop-color="#2a788e"/><stop offset="0.7993" stop-color="#2f6c8e"/><stop offset="0.8670" stop-color="#355f8d"/><stop offset="0.9224" stop-color="#3b528b"/><stop offset="0.9778" stop-color="#414487"/><stop offset="0.9972" stop-color="#433e85"/></linearGradient>
<linearGradient id="mg5" x1="0" y1="156" x2="0" y2="182" gradientUnits="userSpaceOnUse"><stop offset="0" stop-color="#fff" stop-opacity="0"/><stop offset="1" stop-color="#fff" stop-opacity="1"/></linearGradient>
<mask id="mk5" maskUnits="userSpaceOnUse" x="385" y="0" width="190" height="210"><rect x="385" y="156" width="190" height="54" fill="url(#mg5)"/></mask>
<linearGradient id="gbr6" x1="388.6" y1="0" x2="569.0" y2="0" gradientUnits="userSpaceOnUse"><stop offset="0.0000" stop-color="#440154"/><stop offset="0.1741" stop-color="#440154"/><stop offset="0.2184" stop-color="#471063"/><stop offset="0.2406" stop-color="#355f8d"/><stop offset="0.2683" stop-color="#1e9c89"/><stop offset="0.2905" stop-color="#4ec36b"/><stop offset="0.3237" stop-color="#a2da37"/><stop offset="0.3514" stop-color="#ece51b"/><stop offset="0.3736" stop-color="#fde725"/><stop offset="0.3958" stop-color="#ece51b"/><stop offset="0.4235" stop-color="#bddf26"/><stop offset="0.4512" stop-color="#7ad151"/><stop offset="0.4828" stop-color="#22a884"/><stop offset="0.5177" stop-color="#2f6c8e"/><stop offset="0.5510" stop-color="#463480"/><stop offset="0.5859" stop-color="#460b5e"/><stop offset="0.6175" stop-color="#440154"/><stop offset="0.9972" stop-color="#440154"/></linearGradient>
<linearGradient id="mg6" x1="0" y1="182" x2="0" y2="197" gradientUnits="userSpaceOnUse"><stop offset="0" stop-color="#fff" stop-opacity="0"/><stop offset="1" stop-color="#fff" stop-opacity="1"/></linearGradient>
<mask id="mk6" maskUnits="userSpaceOnUse" x="385" y="0" width="190" height="210"><rect x="385" y="182" width="190" height="28" fill="url(#mg6)"/></mask>
<filter id="blur1" x="-20%" y="-20%" width="140%" height="140%"><feGaussianBlur stdDeviation="1.2"/></filter>
<filter id="blur2" x="-20%" y="-20%" width="140%" height="140%"><feGaussianBlur stdDeviation="3"/></filter>
<filter id="blur05" x="-20%" y="-20%" width="140%" height="140%"><feGaussianBlur stdDeviation="0.6"/></filter>
<filter id="blurx" x="-20%" y="-20%" width="140%" height="140%"><feGaussianBlur stdDeviation="0.35 0"/></filter>
</defs>
<g clip-path="url(#clipb)">
<g filter="url(#blurx)">
<rect x="386.60" y="3.40" width="184.40" height="200.30" fill="url(#gbr0)"/>
<rect x="386.60" y="3.40" width="184.40" height="200.30" fill="url(#gbr1)" mask="url(#mk1)"/>
<rect x="386.60" y="3.40" width="184.40" height="200.30" fill="url(#gbr2)" mask="url(#mk2)"/>
<rect x="386.60" y="3.40" width="184.40" height="200.30" fill="url(#gbr3)" mask="url(#mk3)"/>
<rect x="386.60" y="3.40" width="184.40" height="200.30" fill="url(#gbr4)" mask="url(#mk4)"/>
<rect x="386.60" y="3.40" width="184.40" height="200.30" fill="url(#gbr5)" mask="url(#mk5)"/>
<rect x="386.60" y="3.40" width="184.40" height="200.30" fill="url(#gbr6)" mask="url(#mk6)"/>
</g>
<path d="M388,176 L398,180 L412,188 L425,196 L431,202 L388,202 Z" fill="#440154" filter="url(#blur1)"/>
<path d="M570,181 L548,184 L530,188 L512,194 L496,202 L570,202 Z" fill="#440154" filter="url(#blur1)"/>
<defs><linearGradient id="sfade" x1="0" y1="0" x2="0" y2="1"><stop offset="0" stop-color="#fff" stop-opacity="1"/><stop offset="0.6" stop-color="#fff" stop-opacity="0.85"/><stop offset="1" stop-color="#fff" stop-opacity="0"/></linearGradient>
<mask id="msf" maskUnits="userSpaceOnUse" x="530" y="0" width="45" height="210"><rect x="530" y="5" width="45" height="178" fill="url(#sfade)"/></mask>
<mask id="msl" maskUnits="userSpaceOnUse" x="385" y="0" width="45" height="210"><rect x="385" y="5" width="45" height="178" fill="url(#sfade)"/></mask></defs>
<ellipse cx="449" cy="168" rx="5" ry="11" fill="#287d8e" opacity="0.75" filter="url(#blur2)"/>
<defs><linearGradient id="vfade" x1="0" y1="5" x2="0" y2="180" gradientUnits="userSpaceOnUse"><stop offset="0" stop-color="#3e2a78" stop-opacity="0.9"/><stop offset="0.2" stop-color="#3e2a78" stop-opacity="0.75"/><stop offset="0.33" stop-color="#2f6a8d" stop-opacity="0.35"/><stop offset="0.5" stop-color="#2f6a8d" stop-opacity="0.45"/><stop offset="0.6" stop-color="#3e2a78" stop-opacity="0.85"/><stop offset="1" stop-color="#3e2a78" stop-opacity="0.95"/></linearGradient></defs>
<path d="M436.00,5.00 C436.10,10.00 436.17,25.83 436.60,35.00 C437.03,44.17 437.70,51.67 438.60,60.00 C439.50,68.33 440.48,74.33 442.00,85.00 C443.52,95.67 445.78,112.17 447.70,124.00 C449.62,135.83 452.28,147.17 453.50,156.00 C454.72,164.83 454.75,173.50 455.00,177.00" fill="none" stroke="#25848e" stroke-width="5" opacity="0.55" filter="url(#blur1)"/>
<path d="M465.00,5.00 C465.07,9.17 465.07,22.50 465.40,30.00 C465.73,37.50 465.98,43.67 467.00,50.00 C468.02,56.33 469.95,62.67 471.50,68.00 C473.05,73.33 475.68,76.67 476.30,82.00 C476.92,87.33 476.00,93.33 475.20,100.00 C474.40,106.67 472.65,116.00 471.50,122.00 C470.35,128.00 469.93,130.33 468.30,136.00 C466.67,141.67 463.75,149.50 461.70,156.00 C459.65,162.50 456.95,171.83 456.00,175.00" fill="none" stroke="#25848e" stroke-width="5" opacity="0.55" filter="url(#blur1)"/>
<path d="M462.00,62.00 C461.83,64.67 461.42,71.67 461.00,78.00 C460.58,84.33 460.27,91.83 459.50,100.00 C458.73,108.17 457.15,120.33 456.40,127.00 C455.65,133.67 455.23,137.83 455.00,140.00" fill="none" stroke="#25848e" stroke-width="4" opacity="0.5" filter="url(#blur1)"/>
<path d="M436.00,5.00 C436.10,10.00 436.17,25.83 436.60,35.00 C437.03,44.17 437.70,51.67 438.60,60.00 C439.50,68.33 440.48,74.33 442.00,85.00 C443.52,95.67 445.78,112.17 447.70,124.00 C449.62,135.83 452.28,147.17 453.50,156.00 C454.72,164.83 454.75,173.50 455.00,177.00" fill="none" stroke="url(#vfade)" stroke-width="1.7" filter="url(#blur05)"/>
<path d="M465.00,5.00 C465.07,9.17 465.07,22.50 465.40,30.00 C465.73,37.50 465.98,43.67 467.00,50.00 C468.02,56.33 469.95,62.67 471.50,68.00 C473.05,73.33 475.68,76.67 476.30,82.00 C476.92,87.33 476.00,93.33 475.20,100.00 C474.40,106.67 472.65,116.00 471.50,122.00 C470.35,128.00 469.93,130.33 468.30,136.00 C466.67,141.67 463.75,149.50 461.70,156.00 C459.65,162.50 456.95,171.83 456.00,175.00" fill="none" stroke="url(#vfade)" stroke-width="1.6" filter="url(#blur05)"/>
<path d="M462.00,62.00 C461.83,64.67 461.42,71.67 461.00,78.00 C460.58,84.33 460.27,91.83 459.50,100.00 C458.73,108.17 457.15,120.33 456.40,127.00 C455.65,133.67 455.23,137.83 455.00,140.00" fill="none" stroke="#463480" stroke-width="1.2" opacity="0.6" filter="url(#blur05)"/>
<ellipse cx="450" cy="59" rx="3" ry="4" fill="#482475" opacity="0.8" filter="url(#blur1)"/>
<g mask="url(#msf)" filter="url(#blur05)">
<rect x="535.00" y="5" width="1.0" height="180" fill="#463480" opacity="0.6"/>
<rect x="544.85" y="5" width="1.3" height="180" fill="#481d6f" opacity="0.8"/>
<rect x="547.10" y="5" width="0.8" height="180" fill="#414487" opacity="0.5"/>
<rect x="554.35" y="5" width="1.3" height="180" fill="#481d6f" opacity="0.8"/>
<rect x="561.50" y="5" width="1.0" height="180" fill="#472a7a" opacity="0.7"/>
<rect x="565.90" y="5" width="1.2" height="180" fill="#463480" opacity="0.6"/>
<rect x="538.40" y="5" width="1.2" height="180" fill="#22a884" opacity="0.5"/>
<rect x="550.40" y="5" width="1.2" height="180" fill="#20a386" opacity="0.5"/>
<rect x="558.00" y="5" width="1" height="180" fill="#1e9c89" opacity="0.4"/>
</g>
<g mask="url(#msl)" filter="url(#blur05)">
<rect x="389.90" y="5" width="1.2" height="180" fill="#482475" opacity="0.6"/>
<rect x="393.75" y="5" width="1.5" height="180" fill="#460b5e" opacity="0.6"/>
<rect x="416.60" y="5" width="0.8" height="180" fill="#cae11f" opacity="0.7"/>
<rect x="419.85" y="5" width="0.7" height="180" fill="#bddf26" opacity="0.7"/>
<rect x="422.70" y="5" width="0.6" height="180" fill="#bddf26" opacity="0.6"/>
<rect x="410.65" y="5" width="0.7" height="180" fill="#7ad151" opacity="0.5"/>
</g>
<rect x="425.00" y="5.40" width="6.20" height="196.30" fill="#ff0000" fill-opacity="0.27"/>
<rect x="526.90" y="5.40" width="6.20" height="196.30" fill="#ff0000" fill-opacity="0.27"/>
<g fill="none" stroke="#fff" stroke-width="1.5" stroke-dasharray="5,2.6">
<path d="M444.30,4.00 L444.30,13.50 L451.30,13.50 L451.30,30.10 L445.30,30.10 L445.30,38.10 L460.30,38.10 L460.30,46.00 L456.30,46.00 L456.30,54.80 L444.30,54.80 L444.30,70.50 L516.20,70.50 L516.20,62.40 L518.20,62.40 L518.20,54.70 L487.00,54.70 L487.00,46.00 L482.30,46.00 L482.30,38.10 L514.90,38.10 L514.90,30.00 L499.60,30.00 L499.60,21.60 L495.20,21.60 L495.20,13.50 L517.30,13.50 L517.30,4.00"/>
<path d="M502.90,78.30 L449.70,78.30 L449.70,88.00 L451.70,88.00 L451.70,96.00 L455.70,96.00 L455.70,103.30 L450.60,103.30 L450.60,119.70 L458.00,119.70 L458.00,128.50 L451.00,128.50 L451.00,144.20 L462.70,144.20 L462.70,152.40"/>
<path d="M454.70,161.70 L454.70,169.00 L489.50,169.00 L489.50,161.70"/>
<path d="M480.60,152.40 L480.60,144.60 L500.10,144.60 L500.10,136.60 L494.40,136.60 L494.40,128.50 L485.60,128.50 L485.60,120.10 L493.80,120.10 L493.80,111.80 L501.50,111.80 L501.50,103.60 L487.60,103.60 L487.60,95.60 L496.90,95.60 L496.90,86.50 L502.90,86.50 L502.90,78.30"/>
<path d="M451.60,203.00 L451.60,193.80 L444.70,193.80 L444.70,185.60 L456.00,185.60 L456.00,177.80 L486.40,177.80 L486.40,185.30 L521.60,185.30 L521.60,193.80 L494.80,193.80 L494.80,203.00"/>
<path d="M472.30,70.50 L472.30,78.30"/>
<path d="M470.30,169.00 L470.30,177.80"/>
<path d="M473.90,169.00 L473.90,177.80"/>
</g>
<defs><linearGradient id="cbb" x1="0" y1="0" x2="0" y2="1"><stop offset="0.000" stop-color="#fde725"/><stop offset="0.050" stop-color="#dfe318"/><stop offset="0.100" stop-color="#bddf26"/><stop offset="0.150" stop-color="#9bd93c"/><stop offset="0.200" stop-color="#7ad151"/><stop offset="0.250" stop-color="#5ec962"/><stop offset="0.300" stop-color="#44bf70"/><stop offset="0.350" stop-color="#2fb47c"/><stop offset="0.400" stop-color="#22a884"/><stop offset="0.450" stop-color="#1e9c89"/><stop offset="0.500" stop-color="#21918c"/><stop offset="0.550" stop-color="#25848e"/><stop offset="0.600" stop-color="#2a788e"/><stop offset="0.650" stop-color="#2f6c8e"/><stop offset="0.700" stop-color="#355f8d"/><stop offset="0.750" stop-color="#3b528b"/><stop offset="0.800" stop-color="#414487"/><stop offset="0.850" stop-color="#463480"/><stop offset="0.900" stop-color="#482475"/><stop offset="0.950" stop-color="#471365"/><stop offset="1.000" stop-color="#440154"/></linearGradient></defs>
<rect x="401.20" y="139.20" width="8.90" height="38.90" fill="url(#cbb)" stroke="#000" stroke-width="1.4"/>
<line x1="405.00" y1="158.70" x2="409.80" y2="158.70" stroke="#fff" stroke-width="1.3"/>
<line x1="405.00" y1="178.10" x2="409.80" y2="178.10" stroke="#fff" stroke-width="1.3"/>
<text x="415.50" y="164.30" text-anchor="start" font-size="15.3" fill="#fff">−20</text>
<text x="415.50" y="183.60" text-anchor="start" font-size="15.3" fill="#fff">−40</text>
<text x="406.80" y="133.00" text-anchor="middle" font-size="15.3" fill="#fff">dB</text>
</g>
<line x1="394.15" y1="201.70" x2="394.15" y2="196.70" stroke="#000" stroke-width="1.1"/>
<line x1="394.15" y1="5.40" x2="394.15" y2="10.40" stroke="#000" stroke-width="1.1"/>
<g>
<text x="394.15" y="217.90" text-anchor="middle" font-size="15.3" fill="#000"> .0</text>
<path d="M770,0 L590,0 L590,1100 C520,1040 400,975 210,915 L210,1085 C380,1150 540,1270 640,1409 L770,1409 Z" fill="#000" transform="translate(383.515 217.900) scale(0.007471 -0.007471)"/>
</g>
<line x1="450.56" y1="201.70" x2="450.56" y2="196.70" stroke="#000" stroke-width="1.1"/>
<line x1="450.56" y1="5.40" x2="450.56" y2="10.40" stroke="#000" stroke-width="1.1"/>
<g>
<text x="450.56" y="217.90" text-anchor="middle" font-size="15.3" fill="#000"> .5</text>
<path d="M770,0 L590,0 L590,1100 C520,1040 400,975 210,915 L210,1085 C380,1150 540,1270 640,1409 L770,1409 Z" fill="#000" transform="translate(439.930 217.900) scale(0.007471 -0.007471)"/>
</g>
<line x1="506.98" y1="201.70" x2="506.98" y2="196.70" stroke="#000" stroke-width="1.1"/>
<line x1="506.98" y1="5.40" x2="506.98" y2="10.40" stroke="#000" stroke-width="1.1"/>
<text x="506.98" y="217.90" text-anchor="middle" font-size="15.3" fill="#000">2.0</text>
<line x1="563.39" y1="201.70" x2="563.39" y2="196.70" stroke="#000" stroke-width="1.1"/>
<line x1="563.39" y1="5.40" x2="563.39" y2="10.40" stroke="#000" stroke-width="1.1"/>
<text x="563.39" y="217.90" text-anchor="middle" font-size="15.3" fill="#000">2.5</text>
<text x="383.60" y="207.00" text-anchor="end" font-size="15.3" fill="#000">0</text>
<line x1="388.60" y1="147.16" x2="393.60" y2="147.16" stroke="#000" stroke-width="1.1"/>
<line x1="569.00" y1="147.16" x2="564.00" y2="147.16" stroke="#000" stroke-width="1.1"/>
<text x="383.60" y="152.46" text-anchor="end" font-size="15.3" fill="#000">2</text>
<line x1="388.60" y1="92.62" x2="393.60" y2="92.62" stroke="#000" stroke-width="1.1"/>
<line x1="569.00" y1="92.62" x2="564.00" y2="92.62" stroke="#000" stroke-width="1.1"/>
<text x="383.60" y="97.92" text-anchor="end" font-size="15.3" fill="#000">4</text>
<line x1="388.60" y1="38.08" x2="393.60" y2="38.08" stroke="#000" stroke-width="1.1"/>
<line x1="569.00" y1="38.08" x2="564.00" y2="38.08" stroke="#000" stroke-width="1.1"/>
<text x="383.60" y="43.38" text-anchor="end" font-size="15.3" fill="#000">6</text>
<rect x="388.60" y="5.40" width="180.40" height="196.30" fill="none" stroke="#000" stroke-width="1.5"/>
<rect x="387.90" y="4.70" width="23.10" height="22.70" fill="#000"/>
<text x="399.85" y="20.30" text-anchor="middle" font-size="15.3" fill="#fff">(b)</text>
<text x="478.80" y="237.30" text-anchor="middle" font-size="15.3" fill="#000">wavelength [µm]</text>
<text x="367.50" y="103.55" text-anchor="middle" font-size="15.3" fill="#000" transform="rotate(-90 367.5 103.55)">propagation distance [cm]</text>
<defs><clipPath id="clipc"><rect x="594.0" y="5.4" width="72.0" height="196.29999999999998"/></clipPath></defs>
<g clip-path="url(#clipc)">
<line x1="601.80" y1="5.40" x2="601.80" y2="201.70" stroke="#000" stroke-width="1.6" stroke-dasharray="5.5,2.4"/>
<line x1="657.83" y1="5.40" x2="657.83" y2="201.70" stroke="#000" stroke-width="1.6" stroke-dasharray="5.5,2.4"/>
<path d="M611.50,3.00 L611.50,13.40 L638.50,13.40 L638.50,21.40 L633.90,21.40 L633.90,29.60 L614.60,29.60 L614.60,37.90 L650.40,38.30 L650.40,45.80 L647.20,45.80 L647.20,54.40 L607.40,54.80 L607.40,62.20 L612.20,62.20 L612.20,70.60 L656.50,71.00 L656.50,79.00 L629.70,79.20 L629.70,87.30 L637.00,87.30 L637.00,95.40 L646.20,95.40 L646.20,103.50 L631.20,103.70 L631.20,111.90 L640.40,111.90 L640.40,120.20 L648.00,120.30 L648.00,128.40 L639.70,128.40 L639.70,136.80 L632.60,136.80 L632.60,144.60 L651.70,145.20 L651.70,153.20 L657.60,153.20 L657.60,161.00 L644.80,161.30 L644.80,169.50 L655.70,169.70 L655.70,177.80 L646.60,177.80 L646.60,185.40 L602.60,186.60 L602.60,193.50 L639.50,194.70 L639.50,202.00" fill="none" stroke="#2aa07c" stroke-width="1.7" stroke-linejoin="miter"/>
</g>
<line x1="617.90" y1="201.70" x2="617.90" y2="196.70" stroke="#000" stroke-width="1.1"/>
<line x1="617.90" y1="5.40" x2="617.90" y2="10.40" stroke="#000" stroke-width="1.1"/>
<text x="617.90" y="217.90" text-anchor="middle" font-size="15.3" fill="#000">20</text>
<line x1="650.10" y1="201.70" x2="650.10" y2="196.70" stroke="#000" stroke-width="1.1"/>
<line x1="650.10" y1="5.40" x2="650.10" y2="10.40" stroke="#000" stroke-width="1.1"/>
<text x="650.10" y="217.90" text-anchor="middle" font-size="15.3" fill="#000">40</text>
<line x1="594.00" y1="147.16" x2="599.00" y2="147.16" stroke="#000" stroke-width="1.1"/>
<line x1="666.00" y1="147.16" x2="661.00" y2="147.16" stroke="#000" stroke-width="1.1"/>
<line x1="594.00" y1="92.62" x2="599.00" y2="92.62" stroke="#000" stroke-width="1.1"/>
<line x1="666.00" y1="92.62" x2="661.00" y2="92.62" stroke="#000" stroke-width="1.1"/>
<line x1="594.00" y1="38.08" x2="599.00" y2="38.08" stroke="#000" stroke-width="1.1"/>
<line x1="666.00" y1="38.08" x2="661.00" y2="38.08" stroke="#000" stroke-width="1.1"/>
<rect x="594.00" y="5.40" width="72.00" height="196.30" fill="none" stroke="#000" stroke-width="1.5"/>
<rect x="593.00" y="4.70" width="20.90" height="21.00" fill="#000"/>
<text x="604.60" y="19.30" text-anchor="middle" font-size="15.3" fill="#fff">(c)</text>
<text x="630.00" y="237.30" text-anchor="middle" font-size="15.3" fill="#000">temperature [°C]</text>
</svg>
</body></html>
